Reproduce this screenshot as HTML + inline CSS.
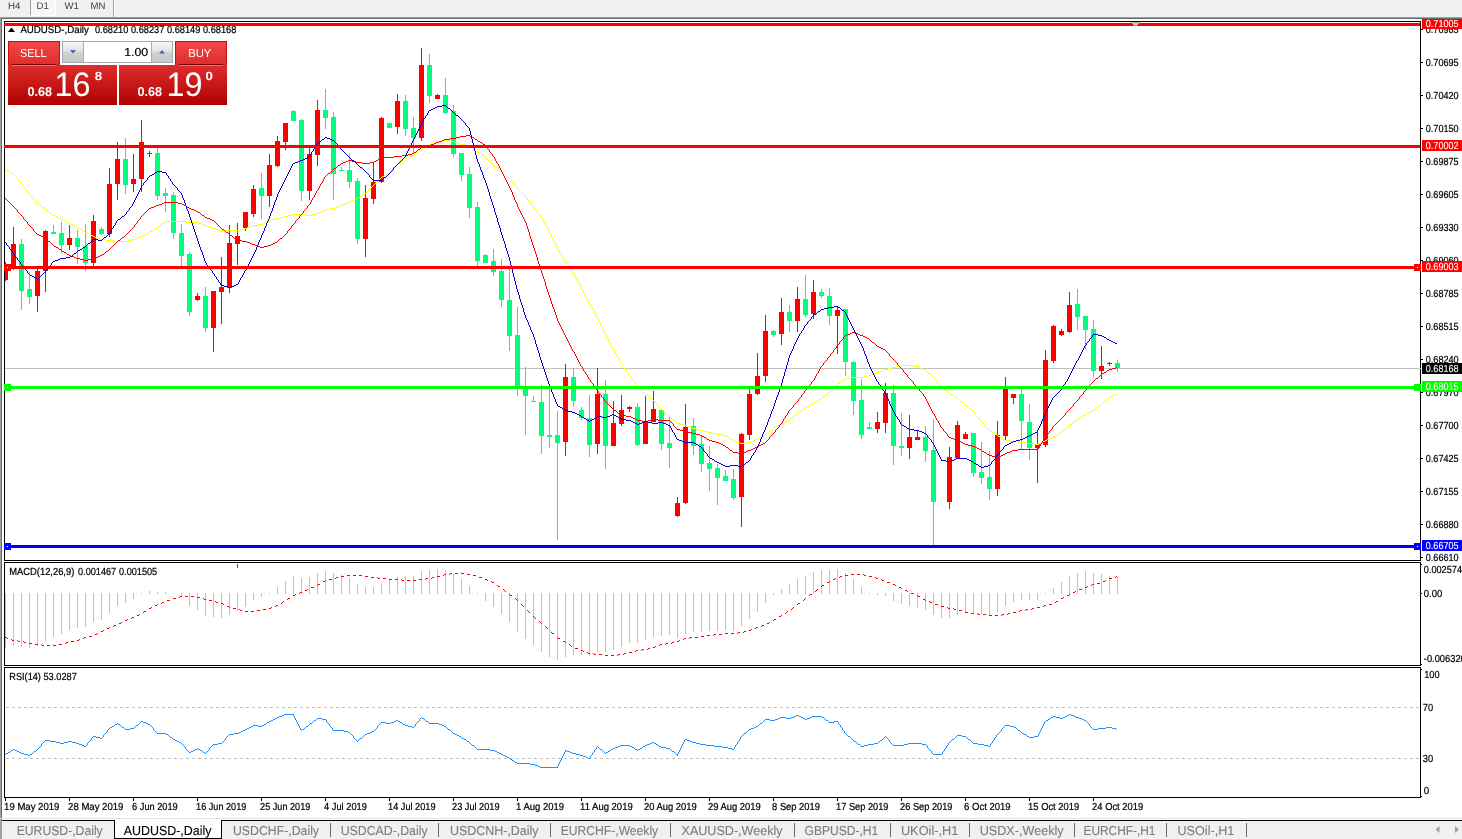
<!DOCTYPE html>
<html><head><meta charset="utf-8"><title>AUDUSD-,Daily</title>
<style>html,body{margin:0;padding:0;background:#fff;overflow:hidden}body{width:1462px;height:839px}svg{display:block}text{white-space:pre;text-rendering:geometricPrecision}</style>
</head><body>
<svg width="1462" height="839" viewBox="0 0 1462 839" shape-rendering="crispEdges" font-family="'Liberation Sans','DejaVu Sans',sans-serif">
<defs>
<linearGradient id="gr" gradientUnits="userSpaceOnUse" x1="0" y1="41" x2="0" y2="105"><stop offset="0" stop-color="#f44848"/><stop offset="0.45" stop-color="#d82828"/><stop offset="1" stop-color="#b00000"/></linearGradient>
<linearGradient id="gb" x1="0" y1="0" x2="0" y2="1"><stop offset="0" stop-color="#f4f4f4"/><stop offset="0.45" stop-color="#e4e4e4"/><stop offset="0.5" stop-color="#d2d2d2"/><stop offset="1" stop-color="#c8c8c8"/></linearGradient>
<clipPath id="cm"><rect x="5" y="22" width="1415" height="538"/></clipPath>
</defs>
<rect x="0" y="0" width="1462" height="839" fill="#ffffff"/>
<rect x="0" y="0" width="1462" height="17" fill="#f0f0f0"/>
<rect x="0" y="17" width="1462" height="1" fill="#a0a0a0"/>
<rect x="1" y="18" width="1461" height="1" fill="#696969"/>
<rect x="0" y="18" width="1" height="802" fill="#a0a0a0"/>
<rect x="1" y="19" width="1" height="801" fill="#696969"/>
<rect x="31" y="0" width="24" height="15" fill="#f8f8f8"/>
<rect x="30" y="0" width="1" height="15" fill="#a0a0a0"/>
<rect x="55" y="0" width="1" height="16" fill="#ffffff"/>
<rect x="31" y="15" width="25" height="1" fill="#ffffff"/>
<rect x="113" y="0" width="1" height="17" fill="#a0a0a0"/>
<rect x="114" y="0" width="1" height="17" fill="#ffffff"/>
<text x="8" y="9" font-size="9.6" fill="#3c3c3c">H4</text>
<text x="36.5" y="9" font-size="9.6" fill="#3c3c3c">D1</text>
<text x="64.5" y="9" font-size="9.6" fill="#3c3c3c">W1</text>
<text x="90.5" y="9" font-size="9.6" fill="#3c3c3c">MN</text>
<g clip-path="url(#cm)">
<rect x="5" y="368" width="1415" height="1" fill="#c0c0c0"/>
<rect x="5" y="262" width="1" height="19" fill="#ff0000"/>
<rect x="3" y="264" width="5" height="16" fill="#ff0000"/>
<rect x="13" y="227" width="1" height="43" fill="#ff0000"/>
<rect x="11" y="244" width="5" height="25" fill="#ff0000"/>
<rect x="21" y="239" width="1" height="71" fill="#00ff7f"/>
<rect x="19" y="244" width="5" height="47" fill="#00ff7f"/>
<rect x="29" y="272" width="1" height="32" fill="#00ff7f"/>
<rect x="27" y="289" width="5" height="8" fill="#00ff7f"/>
<rect x="37" y="269" width="1" height="43" fill="#ff0000"/>
<rect x="35" y="271" width="5" height="25" fill="#ff0000"/>
<rect x="45" y="230" width="1" height="62" fill="#ff0000"/>
<rect x="43" y="231" width="5" height="40" fill="#ff0000"/>
<rect x="53" y="225" width="1" height="9" fill="#00ff7f"/>
<rect x="51" y="232" width="5" height="2" fill="#00ff7f"/>
<rect x="61" y="222" width="1" height="31" fill="#00ff7f"/>
<rect x="59" y="233" width="5" height="12" fill="#00ff7f"/>
<rect x="69" y="225" width="1" height="25" fill="#ff0000"/>
<rect x="67" y="238" width="5" height="7" fill="#ff0000"/>
<rect x="77" y="230" width="1" height="34" fill="#00ff7f"/>
<rect x="75" y="238" width="5" height="9" fill="#00ff7f"/>
<rect x="85" y="224" width="1" height="47" fill="#00ff7f"/>
<rect x="83" y="246" width="5" height="17" fill="#00ff7f"/>
<rect x="93" y="215" width="1" height="54" fill="#ff0000"/>
<rect x="91" y="221" width="5" height="42" fill="#ff0000"/>
<rect x="101" y="227" width="1" height="8" fill="#00ff7f"/>
<rect x="99" y="229" width="5" height="5" fill="#00ff7f"/>
<rect x="109" y="168" width="1" height="69" fill="#ff0000"/>
<rect x="107" y="184" width="5" height="50" fill="#ff0000"/>
<rect x="117" y="142" width="1" height="58" fill="#ff0000"/>
<rect x="115" y="159" width="5" height="25" fill="#ff0000"/>
<rect x="125" y="138" width="1" height="56" fill="#00ff7f"/>
<rect x="123" y="159" width="5" height="26" fill="#00ff7f"/>
<rect x="133" y="154" width="1" height="38" fill="#ff0000"/>
<rect x="131" y="179" width="5" height="5" fill="#ff0000"/>
<rect x="141" y="120" width="1" height="72" fill="#ff0000"/>
<rect x="139" y="142" width="5" height="37" fill="#ff0000"/>
<rect x="149" y="151" width="1" height="6" fill="#ff0000"/>
<rect x="147" y="153" width="5" height="1" fill="#ff0000"/>
<rect x="157" y="148" width="1" height="52" fill="#00ff7f"/>
<rect x="155" y="153" width="5" height="43" fill="#00ff7f"/>
<rect x="165" y="188" width="1" height="24" fill="#00ff7f"/>
<rect x="163" y="193" width="5" height="3" fill="#00ff7f"/>
<rect x="173" y="192" width="1" height="47" fill="#00ff7f"/>
<rect x="171" y="195" width="5" height="38" fill="#00ff7f"/>
<rect x="181" y="224" width="1" height="44" fill="#00ff7f"/>
<rect x="179" y="233" width="5" height="23" fill="#00ff7f"/>
<rect x="189" y="252" width="1" height="64" fill="#00ff7f"/>
<rect x="187" y="254" width="5" height="58" fill="#00ff7f"/>
<rect x="197" y="293" width="1" height="8" fill="#ff0000"/>
<rect x="195" y="296" width="5" height="4" fill="#ff0000"/>
<rect x="205" y="287" width="1" height="45" fill="#00ff7f"/>
<rect x="203" y="296" width="5" height="32" fill="#00ff7f"/>
<rect x="213" y="291" width="1" height="61" fill="#ff0000"/>
<rect x="211" y="291" width="5" height="37" fill="#ff0000"/>
<rect x="221" y="257" width="1" height="67" fill="#ff0000"/>
<rect x="219" y="287" width="5" height="5" fill="#ff0000"/>
<rect x="229" y="225" width="1" height="68" fill="#ff0000"/>
<rect x="227" y="243" width="5" height="45" fill="#ff0000"/>
<rect x="237" y="223" width="1" height="42" fill="#ff0000"/>
<rect x="235" y="236" width="5" height="8" fill="#ff0000"/>
<rect x="245" y="212" width="1" height="19" fill="#ff0000"/>
<rect x="243" y="212" width="5" height="16" fill="#ff0000"/>
<rect x="253" y="185" width="1" height="32" fill="#ff0000"/>
<rect x="251" y="189" width="5" height="25" fill="#ff0000"/>
<rect x="261" y="173" width="1" height="46" fill="#00ff7f"/>
<rect x="259" y="188" width="5" height="8" fill="#00ff7f"/>
<rect x="269" y="154" width="1" height="53" fill="#ff0000"/>
<rect x="267" y="165" width="5" height="31" fill="#ff0000"/>
<rect x="277" y="136" width="1" height="31" fill="#ff0000"/>
<rect x="275" y="141" width="5" height="25" fill="#ff0000"/>
<rect x="285" y="123" width="1" height="27" fill="#ff0000"/>
<rect x="283" y="123" width="5" height="19" fill="#ff0000"/>
<rect x="293" y="110" width="1" height="11" fill="#00ff7f"/>
<rect x="291" y="111" width="5" height="10" fill="#00ff7f"/>
<rect x="301" y="119" width="1" height="82" fill="#00ff7f"/>
<rect x="299" y="120" width="5" height="71" fill="#00ff7f"/>
<rect x="309" y="148" width="1" height="52" fill="#ff0000"/>
<rect x="307" y="154" width="5" height="37" fill="#ff0000"/>
<rect x="317" y="100" width="1" height="66" fill="#ff0000"/>
<rect x="315" y="110" width="5" height="45" fill="#ff0000"/>
<rect x="325" y="89" width="1" height="40" fill="#00ff7f"/>
<rect x="323" y="110" width="5" height="8" fill="#00ff7f"/>
<rect x="333" y="112" width="1" height="88" fill="#00ff7f"/>
<rect x="331" y="117" width="5" height="57" fill="#00ff7f"/>
<rect x="341" y="167" width="1" height="4" fill="#00ff7f"/>
<rect x="339" y="170" width="5" height="1" fill="#00ff7f"/>
<rect x="349" y="154" width="1" height="34" fill="#00ff7f"/>
<rect x="347" y="170" width="5" height="12" fill="#00ff7f"/>
<rect x="357" y="178" width="1" height="66" fill="#00ff7f"/>
<rect x="355" y="181" width="5" height="58" fill="#00ff7f"/>
<rect x="365" y="185" width="1" height="72" fill="#ff0000"/>
<rect x="363" y="198" width="5" height="41" fill="#ff0000"/>
<rect x="373" y="162" width="1" height="42" fill="#ff0000"/>
<rect x="371" y="182" width="5" height="17" fill="#ff0000"/>
<rect x="381" y="117" width="1" height="66" fill="#ff0000"/>
<rect x="379" y="118" width="5" height="64" fill="#ff0000"/>
<rect x="389" y="123" width="1" height="5" fill="#00ff7f"/>
<rect x="387" y="123" width="5" height="5" fill="#00ff7f"/>
<rect x="397" y="94" width="1" height="40" fill="#ff0000"/>
<rect x="395" y="101" width="5" height="26" fill="#ff0000"/>
<rect x="405" y="95" width="1" height="41" fill="#00ff7f"/>
<rect x="403" y="101" width="5" height="28" fill="#00ff7f"/>
<rect x="413" y="117" width="1" height="37" fill="#00ff7f"/>
<rect x="411" y="128" width="5" height="10" fill="#00ff7f"/>
<rect x="421" y="48" width="1" height="93" fill="#ff0000"/>
<rect x="419" y="65" width="5" height="73" fill="#ff0000"/>
<rect x="429" y="54" width="1" height="49" fill="#00ff7f"/>
<rect x="427" y="65" width="5" height="31" fill="#00ff7f"/>
<rect x="437" y="94" width="1" height="5" fill="#ff0000"/>
<rect x="435" y="95" width="5" height="4" fill="#ff0000"/>
<rect x="445" y="78" width="1" height="36" fill="#00ff7f"/>
<rect x="443" y="95" width="5" height="18" fill="#00ff7f"/>
<rect x="453" y="105" width="1" height="52" fill="#00ff7f"/>
<rect x="451" y="111" width="5" height="43" fill="#00ff7f"/>
<rect x="461" y="153" width="1" height="28" fill="#00ff7f"/>
<rect x="459" y="153" width="5" height="22" fill="#00ff7f"/>
<rect x="469" y="167" width="1" height="51" fill="#00ff7f"/>
<rect x="467" y="174" width="5" height="34" fill="#00ff7f"/>
<rect x="477" y="202" width="1" height="64" fill="#00ff7f"/>
<rect x="475" y="207" width="5" height="54" fill="#00ff7f"/>
<rect x="485" y="254" width="1" height="9" fill="#00ff7f"/>
<rect x="483" y="255" width="5" height="8" fill="#00ff7f"/>
<rect x="493" y="249" width="1" height="27" fill="#00ff7f"/>
<rect x="491" y="261" width="5" height="11" fill="#00ff7f"/>
<rect x="501" y="259" width="1" height="48" fill="#00ff7f"/>
<rect x="499" y="271" width="5" height="29" fill="#00ff7f"/>
<rect x="509" y="269" width="1" height="82" fill="#00ff7f"/>
<rect x="507" y="300" width="5" height="36" fill="#00ff7f"/>
<rect x="517" y="307" width="1" height="89" fill="#00ff7f"/>
<rect x="515" y="335" width="5" height="52" fill="#00ff7f"/>
<rect x="525" y="367" width="1" height="68" fill="#00ff7f"/>
<rect x="523" y="387" width="5" height="9" fill="#00ff7f"/>
<rect x="533" y="396" width="1" height="6" fill="#00ff7f"/>
<rect x="531" y="401" width="5" height="1" fill="#00ff7f"/>
<rect x="541" y="385" width="1" height="69" fill="#00ff7f"/>
<rect x="539" y="402" width="5" height="34" fill="#00ff7f"/>
<rect x="549" y="388" width="1" height="60" fill="#00ff7f"/>
<rect x="547" y="435" width="5" height="2" fill="#00ff7f"/>
<rect x="557" y="411" width="1" height="129" fill="#00ff7f"/>
<rect x="555" y="435" width="5" height="8" fill="#00ff7f"/>
<rect x="565" y="364" width="1" height="92" fill="#ff0000"/>
<rect x="563" y="377" width="5" height="65" fill="#ff0000"/>
<rect x="573" y="368" width="1" height="39" fill="#00ff7f"/>
<rect x="571" y="377" width="5" height="24" fill="#00ff7f"/>
<rect x="581" y="407" width="1" height="13" fill="#00ff7f"/>
<rect x="579" y="410" width="5" height="8" fill="#00ff7f"/>
<rect x="589" y="395" width="1" height="62" fill="#00ff7f"/>
<rect x="587" y="418" width="5" height="27" fill="#00ff7f"/>
<rect x="597" y="368" width="1" height="86" fill="#ff0000"/>
<rect x="595" y="394" width="5" height="50" fill="#ff0000"/>
<rect x="605" y="380" width="1" height="89" fill="#00ff7f"/>
<rect x="603" y="394" width="5" height="52" fill="#00ff7f"/>
<rect x="613" y="401" width="1" height="45" fill="#ff0000"/>
<rect x="611" y="423" width="5" height="23" fill="#ff0000"/>
<rect x="621" y="395" width="1" height="31" fill="#ff0000"/>
<rect x="619" y="410" width="5" height="14" fill="#ff0000"/>
<rect x="629" y="406" width="1" height="6" fill="#ff0000"/>
<rect x="627" y="407" width="5" height="2" fill="#ff0000"/>
<rect x="637" y="403" width="1" height="43" fill="#00ff7f"/>
<rect x="635" y="407" width="5" height="38" fill="#00ff7f"/>
<rect x="645" y="396" width="1" height="48" fill="#ff0000"/>
<rect x="643" y="422" width="5" height="22" fill="#ff0000"/>
<rect x="653" y="391" width="1" height="31" fill="#ff0000"/>
<rect x="651" y="409" width="5" height="13" fill="#ff0000"/>
<rect x="661" y="409" width="1" height="41" fill="#00ff7f"/>
<rect x="659" y="410" width="5" height="34" fill="#00ff7f"/>
<rect x="669" y="417" width="1" height="51" fill="#00ff7f"/>
<rect x="667" y="443" width="5" height="5" fill="#00ff7f"/>
<rect x="677" y="497" width="1" height="20" fill="#ff0000"/>
<rect x="675" y="503" width="5" height="13" fill="#ff0000"/>
<rect x="685" y="404" width="1" height="100" fill="#ff0000"/>
<rect x="683" y="427" width="5" height="76" fill="#ff0000"/>
<rect x="693" y="418" width="1" height="37" fill="#00ff7f"/>
<rect x="691" y="426" width="5" height="20" fill="#00ff7f"/>
<rect x="701" y="436" width="1" height="36" fill="#00ff7f"/>
<rect x="699" y="444" width="5" height="20" fill="#00ff7f"/>
<rect x="709" y="446" width="1" height="45" fill="#00ff7f"/>
<rect x="707" y="463" width="5" height="6" fill="#00ff7f"/>
<rect x="717" y="464" width="1" height="41" fill="#00ff7f"/>
<rect x="715" y="468" width="5" height="10" fill="#00ff7f"/>
<rect x="725" y="470" width="1" height="11" fill="#00ff7f"/>
<rect x="723" y="476" width="5" height="5" fill="#00ff7f"/>
<rect x="733" y="469" width="1" height="31" fill="#00ff7f"/>
<rect x="731" y="479" width="5" height="19" fill="#00ff7f"/>
<rect x="741" y="433" width="1" height="94" fill="#ff0000"/>
<rect x="739" y="434" width="5" height="63" fill="#ff0000"/>
<rect x="749" y="388" width="1" height="52" fill="#ff0000"/>
<rect x="747" y="394" width="5" height="41" fill="#ff0000"/>
<rect x="757" y="353" width="1" height="42" fill="#ff0000"/>
<rect x="755" y="376" width="5" height="18" fill="#ff0000"/>
<rect x="765" y="315" width="1" height="67" fill="#ff0000"/>
<rect x="763" y="331" width="5" height="45" fill="#ff0000"/>
<rect x="773" y="330" width="1" height="7" fill="#00ff7f"/>
<rect x="771" y="331" width="5" height="4" fill="#00ff7f"/>
<rect x="781" y="298" width="1" height="47" fill="#ff0000"/>
<rect x="779" y="312" width="5" height="22" fill="#ff0000"/>
<rect x="789" y="305" width="1" height="27" fill="#00ff7f"/>
<rect x="787" y="312" width="5" height="9" fill="#00ff7f"/>
<rect x="797" y="287" width="1" height="45" fill="#ff0000"/>
<rect x="795" y="299" width="5" height="22" fill="#ff0000"/>
<rect x="805" y="275" width="1" height="42" fill="#00ff7f"/>
<rect x="803" y="299" width="5" height="16" fill="#00ff7f"/>
<rect x="813" y="280" width="1" height="39" fill="#ff0000"/>
<rect x="811" y="292" width="5" height="22" fill="#ff0000"/>
<rect x="821" y="289" width="1" height="9" fill="#00ff7f"/>
<rect x="819" y="292" width="5" height="4" fill="#00ff7f"/>
<rect x="829" y="288" width="1" height="37" fill="#00ff7f"/>
<rect x="827" y="296" width="5" height="20" fill="#00ff7f"/>
<rect x="837" y="307" width="1" height="47" fill="#ff0000"/>
<rect x="835" y="310" width="5" height="6" fill="#ff0000"/>
<rect x="845" y="309" width="1" height="67" fill="#00ff7f"/>
<rect x="843" y="309" width="5" height="53" fill="#00ff7f"/>
<rect x="853" y="361" width="1" height="54" fill="#00ff7f"/>
<rect x="851" y="362" width="5" height="39" fill="#00ff7f"/>
<rect x="861" y="379" width="1" height="60" fill="#00ff7f"/>
<rect x="859" y="400" width="5" height="35" fill="#00ff7f"/>
<rect x="869" y="422" width="1" height="7" fill="#00ff7f"/>
<rect x="867" y="427" width="5" height="2" fill="#00ff7f"/>
<rect x="877" y="412" width="1" height="21" fill="#ff0000"/>
<rect x="875" y="422" width="5" height="7" fill="#ff0000"/>
<rect x="885" y="383" width="1" height="50" fill="#ff0000"/>
<rect x="883" y="393" width="5" height="30" fill="#ff0000"/>
<rect x="893" y="385" width="1" height="80" fill="#00ff7f"/>
<rect x="891" y="393" width="5" height="53" fill="#00ff7f"/>
<rect x="901" y="413" width="1" height="43" fill="#00ff7f"/>
<rect x="899" y="446" width="5" height="2" fill="#00ff7f"/>
<rect x="909" y="415" width="1" height="44" fill="#ff0000"/>
<rect x="907" y="437" width="5" height="11" fill="#ff0000"/>
<rect x="917" y="431" width="1" height="9" fill="#ff0000"/>
<rect x="915" y="437" width="5" height="3" fill="#ff0000"/>
<rect x="925" y="426" width="1" height="36" fill="#00ff7f"/>
<rect x="923" y="437" width="5" height="14" fill="#00ff7f"/>
<rect x="933" y="419" width="1" height="126" fill="#00ff7f"/>
<rect x="931" y="450" width="5" height="52" fill="#00ff7f"/>
<rect x="949" y="447" width="1" height="62" fill="#ff0000"/>
<rect x="947" y="457" width="5" height="45" fill="#ff0000"/>
<rect x="957" y="421" width="1" height="37" fill="#ff0000"/>
<rect x="955" y="425" width="5" height="33" fill="#ff0000"/>
<rect x="965" y="432" width="1" height="7" fill="#ff0000"/>
<rect x="963" y="434" width="5" height="5" fill="#ff0000"/>
<rect x="973" y="433" width="1" height="44" fill="#00ff7f"/>
<rect x="971" y="433" width="5" height="40" fill="#00ff7f"/>
<rect x="981" y="442" width="1" height="42" fill="#00ff7f"/>
<rect x="979" y="472" width="5" height="6" fill="#00ff7f"/>
<rect x="989" y="451" width="1" height="49" fill="#00ff7f"/>
<rect x="987" y="477" width="5" height="12" fill="#00ff7f"/>
<rect x="997" y="421" width="1" height="75" fill="#ff0000"/>
<rect x="995" y="435" width="5" height="54" fill="#ff0000"/>
<rect x="1005" y="377" width="1" height="63" fill="#ff0000"/>
<rect x="1003" y="388" width="5" height="48" fill="#ff0000"/>
<rect x="1013" y="394" width="1" height="10" fill="#ff0000"/>
<rect x="1011" y="394" width="5" height="4" fill="#ff0000"/>
<rect x="1021" y="389" width="1" height="60" fill="#00ff7f"/>
<rect x="1019" y="394" width="5" height="27" fill="#00ff7f"/>
<rect x="1029" y="404" width="1" height="56" fill="#00ff7f"/>
<rect x="1027" y="422" width="5" height="26" fill="#00ff7f"/>
<rect x="1037" y="432" width="1" height="51" fill="#ff0000"/>
<rect x="1035" y="444" width="5" height="4" fill="#ff0000"/>
<rect x="1045" y="350" width="1" height="97" fill="#ff0000"/>
<rect x="1043" y="360" width="5" height="85" fill="#ff0000"/>
<rect x="1053" y="325" width="1" height="38" fill="#ff0000"/>
<rect x="1051" y="326" width="5" height="35" fill="#ff0000"/>
<rect x="1061" y="329" width="1" height="7" fill="#ff0000"/>
<rect x="1059" y="331" width="5" height="4" fill="#ff0000"/>
<rect x="1069" y="292" width="1" height="41" fill="#ff0000"/>
<rect x="1067" y="305" width="5" height="27" fill="#ff0000"/>
<rect x="1077" y="289" width="1" height="41" fill="#00ff7f"/>
<rect x="1075" y="304" width="5" height="13" fill="#00ff7f"/>
<rect x="1085" y="316" width="1" height="34" fill="#00ff7f"/>
<rect x="1083" y="316" width="5" height="14" fill="#00ff7f"/>
<rect x="1093" y="320" width="1" height="57" fill="#00ff7f"/>
<rect x="1091" y="329" width="5" height="42" fill="#00ff7f"/>
<rect x="1101" y="346" width="1" height="33" fill="#ff0000"/>
<rect x="1099" y="366" width="5" height="5" fill="#ff0000"/>
<rect x="1109" y="362" width="1" height="4" fill="#ff0000"/>
<rect x="1107" y="363" width="5" height="1" fill="#ff0000"/>
<rect x="1117" y="360" width="1" height="12" fill="#00ff7f"/>
<rect x="1115" y="363" width="5" height="5" fill="#00ff7f"/>
</g>
<path d="M442 140.5h8M436 141.5h6M450 141.5h5M434 142.5h2M455 142.5h3M431 143.5h3M458 143.5h2M429 144.5h2M460 144.5h6M427 145.5h2M466 145.5h4M425 146.5h2M470 146.5h2M423 147.5h2M472 147.5h1M421 148.5h2M473 148.5h1M420 149.5h1M474 149.5h2M419 150.5h1M476 150.5h1M418 151.5h1M477 151.5h1M416 152.5h2M478 152.5h2M415 153.5h1M480 153.5h1M414 154.5h1M481 154.5h1M412 155.5h2M482 155.5h2M410 156.5h2M484 156.5h1M407 157.5h3M485 157.5h1M405 158.5h2M486 158.5h1M404 159.5h1M487 159.5h1M402 160.5h2M488 160.5h1M401 161.5h1M489 161.5h1M400 162.5h1M490 162.5h1M398 163.5h2M491 163.5h1M397 164.5h1M492 164.5h1M396 165.5h1M493 165.5h1M395 166.5h1M494 166.5h2M394 167.5h1M496 167.5h2M393 168.5h1M498 168.5h1M5 169.5h1M392 169.5h1M499 169.5h2M6 170.5h2M391 170.5h1M501 170.5h1M8 171.5h2M390 171.5h1M502 171.5h1M10 172.5h1M389 172.5h1M503 172.5h1M11 173.5h2M387 173.5h2M504 173.5h1M13 174.5h1M386 174.5h1M505 174.5h1M14 175.5h1M384 175.5h2M506 175.5h1M15 176.5h1M382 176.5h2M507 176.5h1M16 177.5h1M381 177.5h1M508 177.5h1M17.5 178v2M380 178.5h1M509 178.5h1M379 179.5h1M510 179.5h1M18 180.5h1M378 180.5h1M511.5 180v2M19 181.5h1M377 181.5h1M20 182.5h1M376 182.5h1M512 182.5h1M21 183.5h1M375 183.5h1M513 183.5h1M22.5 184v2M374 184.5h1M514 184.5h1M373 185.5h1M515.5 185v2M23 186.5h1M372 186.5h1M24 187.5h1M371 187.5h1M516 187.5h1M25.5 188v2M370 188.5h1M517 188.5h1M369 189.5h1M518 189.5h1M26 190.5h1M368 190.5h1M519 190.5h1M27 191.5h1M367 191.5h1M520 191.5h1M28.5 192v2M366 192.5h1M521 192.5h1M365 193.5h1M522 193.5h1M29 194.5h1M363 194.5h2M523 194.5h1M30 195.5h1M362 195.5h1M524 195.5h1M31 196.5h1M360 196.5h2M525 196.5h1M32 197.5h1M358 197.5h2M526 197.5h1M33.5 198v2M356 198.5h2M527.5 198v2M354 199.5h2M34 200.5h1M351 200.5h3M528 200.5h1M35 201.5h1M349 201.5h2M529 201.5h1M36 202.5h1M347 202.5h2M530 202.5h1M37 203.5h1M345 203.5h2M531.5 203v2M38 204.5h2M343 204.5h2M40 205.5h1M340 205.5h3M532 205.5h1M41 206.5h1M338 206.5h2M533 206.5h1M42 207.5h2M335 207.5h3M534.5 207v2M44 208.5h1M330 208.5h5M45 209.5h1M325 209.5h5M535 209.5h1M46 210.5h2M323 210.5h2M536 210.5h1M48 211.5h1M321 211.5h2M537.5 211v2M49 212.5h1M319 212.5h2M50 213.5h2M316 213.5h3M538 213.5h1M52 214.5h1M292 214.5h14M312 214.5h4M539 214.5h1M53 215.5h2M288 215.5h4M306 215.5h6M540.5 215v2M55 216.5h2M284 216.5h4M57 217.5h2M280 217.5h4M541 217.5h1M59 218.5h2M276 218.5h4M542.5 218v2M61 219.5h2M272 219.5h4M63 220.5h2M269 220.5h3M543.5 220v2M65 221.5h2M165 221.5h21M267 221.5h2M67 222.5h2M164 222.5h1M186 222.5h13M265 222.5h2M544.5 222v2M69 223.5h2M162 223.5h2M199 223.5h3M263 223.5h2M71 224.5h2M161 224.5h1M202 224.5h2M258 224.5h5M545 224.5h1M73 225.5h2M160 225.5h1M204 225.5h3M252 225.5h6M546.5 225v2M75 226.5h2M158 226.5h2M207 226.5h3M250 226.5h2M77 227.5h1M157 227.5h1M210 227.5h2M247 227.5h3M547.5 227v2M78 228.5h2M155 228.5h2M212 228.5h4M244 228.5h3M80 229.5h2M154 229.5h1M216 229.5h4M240 229.5h4M548.5 229v2M82 230.5h1M152 230.5h2M220 230.5h20M83 231.5h2M150 231.5h2M549.5 231v2M85 232.5h2M149 232.5h1M87 233.5h2M147 233.5h2M550.5 233v2M89 234.5h2M145 234.5h2M91 235.5h2M143 235.5h2M551.5 235v2M93 236.5h2M140 236.5h3M95 237.5h3M138 237.5h2M552.5 237v2M98 238.5h2M135 238.5h3M100 239.5h6M132 239.5h3M553.5 239v2M106 240.5h8M128 240.5h4M114 241.5h14M554.5 241v2M555.5 243v2M556.5 245v2M557.5 247v2M558.5 249v2M559.5 251v2M560 253.5h1M561.5 254v2M562 256.5h1M563.5 257v2M564.5 259v2M565 261.5h1M566.5 262v2M567 264.5h1M568.5 265v2M569 267.5h1M570.5 268v2M571 270.5h1M572.5 271v2M573 273.5h1M574.5 274v2M575.5 276v2M576.5 278v2M577 280.5h1M578.5 281v2M579.5 283v2M580.5 285v2M581.5 287v2M582.5 289v2M583.5 291v2M584.5 293v2M585.5 295v2M586.5 297v2M587.5 299v2M588.5 301v2M589 303.5h1M590.5 304v2M591.5 306v2M592.5 308v2M593 310.5h1M594.5 311v2M595.5 313v2M596.5 315v2M597.5 317v2M598.5 319v2M599.5 321v2M600.5 323v2M601.5 325v2M602.5 327v2M603.5 329v2M604.5 331v2M605.5 333v2M606.5 335v2M607.5 337v2M608.5 339v2M609.5 341v2M610.5 343v2M611.5 345v2M612.5 347v2M613 349.5h1M614.5 350v2M615.5 352v2M616.5 354v2M617 356.5h1M618.5 357v2M619.5 359v2M620.5 361v2M621 363.5h1M622.5 364v2M900 365.5h14M623 366.5h1M896 366.5h4M914 366.5h5M624.5 367v2M892 367.5h4M919 367.5h2M888 368.5h4M921 368.5h2M625 369.5h1M884 369.5h4M923 369.5h2M626.5 370v2M882 370.5h2M925 370.5h1M879 371.5h3M926 371.5h1M627 372.5h1M876 372.5h3M927 372.5h1M628.5 373v2M874 373.5h2M928 373.5h2M871 374.5h3M930 374.5h1M629 375.5h1M868 375.5h3M931 375.5h1M630 376.5h1M864 376.5h4M932 376.5h1M631.5 377v2M850 377.5h14M933 377.5h1M845 378.5h5M934 378.5h1M632 379.5h1M844 379.5h1M935 379.5h1M633 380.5h1M842 380.5h2M936 380.5h1M634 381.5h1M841 381.5h1M937.5 381v2M635.5 382v2M840 382.5h1M838 383.5h2M938 383.5h1M636 384.5h1M837 384.5h1M939 384.5h1M637 385.5h1M836 385.5h1M940 385.5h1M638 386.5h1M835 386.5h1M941 386.5h1M639 387.5h1M834 387.5h1M942 387.5h1M640 388.5h1M833 388.5h1M943 388.5h1M641.5 389v2M832 389.5h1M944 389.5h2M831 390.5h1M946 390.5h1M642 391.5h1M830 391.5h1M947 391.5h1M643 392.5h1M829 392.5h1M948 392.5h1M644 393.5h1M828 393.5h1M949 393.5h1M645 394.5h1M826 394.5h2M950 394.5h2M1115 394.5h2M646 395.5h2M825 395.5h1M952 395.5h2M1113 395.5h2M648 396.5h1M824 396.5h1M954 396.5h1M1111 396.5h2M649 397.5h1M822 397.5h2M955 397.5h2M1109 397.5h2M650 398.5h2M821 398.5h1M957 398.5h1M1108 398.5h1M652 399.5h1M819 399.5h2M958 399.5h1M1107 399.5h1M653 400.5h1M818 400.5h1M959 400.5h1M1106 400.5h1M654 401.5h1M816 401.5h2M960 401.5h2M1104 401.5h2M655 402.5h1M814 402.5h2M962 402.5h1M1103 402.5h1M656 403.5h1M813 403.5h1M963 403.5h1M1102 403.5h1M657.5 404v2M811 404.5h2M964 404.5h1M1101 404.5h1M809 405.5h2M965 405.5h1M1100 405.5h1M658 406.5h1M807 406.5h2M966 406.5h2M1098 406.5h2M659 407.5h1M805 407.5h2M968 407.5h1M1097 407.5h1M660 408.5h1M804 408.5h1M969 408.5h1M1096 408.5h1M661 409.5h1M802 409.5h2M970 409.5h2M1094 409.5h2M662 410.5h1M801 410.5h1M972 410.5h1M1093 410.5h1M663 411.5h1M800 411.5h1M973 411.5h1M1091 411.5h2M664 412.5h2M798 412.5h2M974 412.5h1M1089 412.5h2M666 413.5h1M797 413.5h1M975.5 413v2M1087 413.5h2M667 414.5h1M796 414.5h1M1085 414.5h2M668 415.5h1M794 415.5h2M976 415.5h1M1083 415.5h2M669 416.5h1M793 416.5h1M977 416.5h1M1082 416.5h1M670 417.5h1M792 417.5h1M978 417.5h1M1080 417.5h2M671 418.5h1M790 418.5h2M979.5 418v2M1078 418.5h2M672 419.5h2M789 419.5h1M1077 419.5h1M674 420.5h1M787 420.5h2M980 420.5h1M1076 420.5h1M675 421.5h1M785 421.5h2M981 421.5h1M1074 421.5h2M676 422.5h1M783 422.5h2M982 422.5h1M1073 422.5h1M677 423.5h3M781 423.5h2M983 423.5h1M1072 423.5h1M680 424.5h4M779 424.5h2M984 424.5h1M1070 424.5h2M684 425.5h3M778 425.5h1M985.5 425v2M1069 425.5h1M687 426.5h3M776 426.5h2M1068 426.5h1M690 427.5h2M774 427.5h2M986 427.5h1M1067 427.5h1M692 428.5h4M773 428.5h1M987 428.5h1M1066 428.5h1M696 429.5h4M772 429.5h1M988 429.5h1M1064 429.5h2M700 430.5h4M770 430.5h2M989 430.5h1M1063 430.5h1M704 431.5h4M769 431.5h1M990 431.5h2M1062 431.5h1M708 432.5h4M768 432.5h1M992 432.5h2M1061 432.5h1M712 433.5h4M766 433.5h2M994 433.5h1M1059 433.5h2M716 434.5h6M765 434.5h1M995 434.5h2M1058 434.5h1M722 435.5h4M763 435.5h2M997 435.5h1M1056 435.5h2M726 436.5h2M761 436.5h2M998 436.5h2M1054 436.5h2M728 437.5h1M759 437.5h2M1000 437.5h2M1052 437.5h2M729 438.5h1M757 438.5h2M1002 438.5h1M1050 438.5h2M730 439.5h2M755 439.5h2M1003 439.5h2M1047 439.5h3M732 440.5h1M753 440.5h2M1005 440.5h5M1045 440.5h2M733 441.5h3M751 441.5h2M1010 441.5h8M1043 441.5h2M736 442.5h4M746 442.5h5M1018 442.5h8M1041 442.5h2M740 443.5h6M1026 443.5h8M1039 443.5h2M1034 444.5h5" fill="none" stroke="#ffff00" stroke-width="1"/>
<path d="M466 135.5h4M460 136.5h6M470 136.5h2M456 137.5h4M472 137.5h2M450 138.5h6M474 138.5h1M444 139.5h6M475 139.5h2M442 140.5h2M477 140.5h1M439 141.5h3M478 141.5h2M436 142.5h3M480 142.5h2M434 143.5h2M482 143.5h1M431 144.5h3M483 144.5h2M428 145.5h3M485 145.5h1M424 146.5h4M486.5 146v2M421 147.5h3M420 148.5h1M487 148.5h1M418 149.5h2M488 149.5h1M417 150.5h1M489.5 150v2M416 151.5h1M414 152.5h2M490 152.5h1M412 153.5h2M491 153.5h1M408 154.5h4M492.5 154v2M402 155.5h6M394 156.5h8M493 156.5h1M381 157.5h13M494.5 157v2M379 158.5h2M378 159.5h1M495.5 159v2M348 160.5h4M376 160.5h2M346 161.5h2M352 161.5h4M374 161.5h2M496.5 161v2M343 162.5h3M356 162.5h6M370 162.5h4M341 163.5h2M362 163.5h8M497 163.5h1M340 164.5h1M498.5 164v2M338 165.5h2M337 166.5h1M499.5 166v2M336 167.5h1M334 168.5h2M500.5 168v2M333 169.5h1M332 170.5h1M501.5 170v2M331 171.5h1M330 172.5h1M502.5 172v2M328 173.5h2M327 174.5h1M503.5 174v2M326 175.5h1M325 176.5h1M504.5 176v2M324.5 177v2M505.5 178v2M323.5 179v2M506.5 180v2M322.5 181v2M507.5 182v2M321 183.5h1M320.5 184v2M508.5 184v2M319.5 186v2M509.5 186v2M318.5 188v2M510.5 188v2M317 190.5h1M511.5 190v2M316.5 191v2M512.5 192v3M315.5 193v2M314.5 195v2M513.5 195v2M313 197.5h1M514.5 197v3M5 198.5h1M312.5 198v2M6 199.5h1M7 200.5h1M311.5 200v2M515.5 200v2M8 201.5h1M9 202.5h1M164 202.5h14M310.5 202v2M516.5 202v2M10 203.5h1M162 203.5h2M178 203.5h4M11 204.5h1M159 204.5h3M182 204.5h2M309 204.5h1M517.5 204v3M12 205.5h1M156 205.5h3M184 205.5h2M308 205.5h1M13 206.5h1M154 206.5h2M186 206.5h1M307.5 206v2M14 207.5h1M151 207.5h3M187 207.5h2M518.5 207v2M15 208.5h1M149 208.5h2M189 208.5h2M306 208.5h1M16 209.5h1M148 209.5h1M191 209.5h3M305 209.5h1M519.5 209v2M17.5 210v2M147 210.5h1M194 210.5h2M304 210.5h1M146 211.5h1M196 211.5h2M303.5 211v2M520.5 211v2M18 212.5h1M145 212.5h1M198 212.5h2M19 213.5h1M144 213.5h1M200 213.5h1M302 213.5h1M521.5 213v2M20 214.5h1M143 214.5h1M201 214.5h1M301 214.5h1M21 215.5h1M142 215.5h1M202 215.5h2M300 215.5h1M522.5 215v2M22 216.5h1M141 216.5h1M204 216.5h1M299.5 216v2M23.5 217v2M140.5 217v2M205 217.5h2M523.5 217v2M207 218.5h3M298 218.5h1M24 219.5h1M139 219.5h1M210 219.5h2M297 219.5h1M524.5 219v2M25 220.5h1M138 220.5h1M212 220.5h2M296 220.5h1M26 221.5h1M137.5 221v2M214 221.5h1M295.5 221v2M525.5 221v2M27.5 222v2M215 222.5h1M136 223.5h1M216 223.5h1M294 223.5h1M526.5 223v3M28 224.5h1M135 224.5h1M217 224.5h1M293 224.5h1M29 225.5h1M134.5 225v2M218 225.5h1M292 225.5h1M30 226.5h1M219 226.5h1M291.5 226v2M527.5 226v3M31 227.5h1M133 227.5h1M220 227.5h1M32 228.5h1M132 228.5h1M221 228.5h1M290 228.5h1M33.5 229v2M131 229.5h1M222 229.5h2M289 229.5h1M528.5 229v3M130 230.5h1M224 230.5h1M288 230.5h1M34 231.5h1M129 231.5h1M225 231.5h1M287.5 231v2M35 232.5h1M128 232.5h1M226 232.5h2M529.5 232v4M36 233.5h1M127 233.5h1M228 233.5h1M286 233.5h1M37 234.5h2M126 234.5h1M229 234.5h1M285 234.5h1M39 235.5h2M125 235.5h1M230 235.5h2M284 235.5h1M41 236.5h2M124 236.5h1M232 236.5h1M283 236.5h1M530.5 236v3M43 237.5h2M122 237.5h2M233 237.5h1M282 237.5h1M45 238.5h1M121 238.5h1M234 238.5h2M280 238.5h2M46 239.5h1M120 239.5h1M236 239.5h1M279 239.5h1M531.5 239v3M47 240.5h1M118 240.5h2M237 240.5h5M278 240.5h1M48 241.5h2M117 241.5h1M242 241.5h5M277 241.5h1M50 242.5h1M116 242.5h1M247 242.5h3M275 242.5h2M532.5 242v3M51 243.5h1M115 243.5h1M250 243.5h2M273 243.5h2M52 244.5h1M114 244.5h1M252 244.5h3M271 244.5h2M53 245.5h1M113 245.5h1M255 245.5h3M268 245.5h3M533.5 245v3M54 246.5h2M112 246.5h1M258 246.5h2M264 246.5h4M56 247.5h2M111 247.5h1M260 247.5h4M58 248.5h1M110 248.5h1M534.5 248v3M59 249.5h2M109 249.5h1M61 250.5h1M108 250.5h1M62 251.5h2M106 251.5h2M535.5 251v3M64 252.5h2M105 252.5h1M66 253.5h1M104 253.5h1M67 254.5h2M102 254.5h2M536.5 254v3M69 255.5h2M100 255.5h2M71 256.5h3M98 256.5h2M74 257.5h2M95 257.5h3M537.5 257v4M76 258.5h4M92 258.5h3M80 259.5h4M88 259.5h4M84 260.5h4M538.5 261v3M539.5 264v3M540.5 267v3M541.5 270v3M542.5 273v3M543.5 276v3M544.5 279v3M545.5 282v4M546.5 286v3M547.5 289v3M548.5 292v3M549.5 295v3M550.5 298v3M551.5 301v3M552.5 304v3M553.5 307v2M554.5 309v3M555.5 312v3M556.5 315v3M557.5 318v3M558.5 321v2M559.5 323v2M560.5 325v2M561.5 327v2M562.5 329v2M563.5 331v2M852 332.5h3M564.5 333v2M850 333.5h2M855 333.5h3M847 334.5h3M858 334.5h2M565.5 335v2M845 335.5h2M860 335.5h3M844 336.5h1M863 336.5h2M566.5 337v2M843.5 337v2M865 337.5h2M867 338.5h2M567.5 339v2M842 339.5h1M869 339.5h1M841 340.5h1M870 340.5h1M568.5 341v2M840 341.5h1M871 341.5h1M839.5 342v2M872 342.5h2M569.5 343v2M874 343.5h1M838 344.5h1M875 344.5h1M570.5 345v2M837 345.5h1M876 345.5h1M836.5 346v2M877 346.5h2M571.5 347v2M879 347.5h2M835 348.5h1M881 348.5h2M572.5 349v2M834 349.5h1M883 349.5h2M833.5 350v2M885 350.5h1M573 351.5h1M886 351.5h1M574.5 352v2M832 352.5h1M887 352.5h1M831 353.5h1M888 353.5h1M575.5 354v2M830.5 354v2M889.5 354v2M576.5 356v2M829 356.5h1M890 356.5h1M828 357.5h1M891 357.5h1M577.5 358v2M827.5 358v2M892 358.5h1M893 359.5h1M578.5 360v2M826 360.5h1M894 360.5h1M825 361.5h1M895 361.5h1M579.5 362v2M824 362.5h1M896 362.5h1M823.5 363v2M897.5 363v2M580.5 364v2M822 365.5h1M898 365.5h1M581 366.5h1M821 366.5h1M899 366.5h1M582.5 367v2M820.5 367v2M900 367.5h1M1116 367.5h1M901 368.5h1M1112 368.5h4M583.5 369v2M819.5 369v2M902 369.5h1M1109 369.5h3M903.5 370v2M1107 370.5h2M584 371.5h1M818.5 371v2M1106 371.5h1M585.5 372v2M904 372.5h1M1104 372.5h2M817 373.5h1M905 373.5h1M1102 373.5h2M586 374.5h1M816.5 374v2M906 374.5h1M1101 374.5h1M587.5 375v2M907.5 375v2M1100 375.5h1M815.5 376v2M1099 376.5h1M588.5 377v2M908 377.5h1M1098 377.5h1M814.5 378v2M909 378.5h1M1096 378.5h2M589 379.5h1M910 379.5h1M1095 379.5h1M590.5 380v2M813 380.5h1M911 380.5h1M1094 380.5h1M812 381.5h1M912 381.5h1M1093 381.5h1M591 382.5h1M811.5 382v2M913.5 382v2M1092 382.5h1M592 383.5h1M1091 383.5h1M593.5 384v2M810 384.5h1M914 384.5h1M1090 384.5h1M809 385.5h1M915 385.5h1M1089.5 385v2M594 386.5h1M808 386.5h1M916 386.5h1M595 387.5h1M807.5 387v2M917 387.5h1M1088 387.5h1M596.5 388v2M918 388.5h1M1087 388.5h1M806 389.5h1M919.5 389v2M1086 389.5h1M597 390.5h1M805 390.5h1M1085 390.5h1M598.5 391v2M804.5 391v2M920 391.5h1M1084 391.5h1M921 392.5h1M1083.5 392v2M599 393.5h1M803 393.5h1M922 393.5h1M600 394.5h1M802 394.5h1M923.5 394v2M1082 394.5h1M601.5 395v2M801.5 395v2M1081 395.5h1M924 396.5h1M1080 396.5h1M602 397.5h1M800 397.5h1M925.5 397v2M1079.5 397v2M603 398.5h1M799 398.5h1M604.5 399v2M798.5 399v2M926.5 399v2M1078 399.5h1M1077 400.5h1M605 401.5h1M797 401.5h1M927.5 401v2M1076 401.5h1M606 402.5h1M796 402.5h1M1075 402.5h1M607 403.5h1M795 403.5h1M928.5 403v2M1074 403.5h1M608 404.5h1M794 404.5h1M1073.5 404v2M609 405.5h1M793.5 405v2M929.5 405v2M610 406.5h1M1072 406.5h1M611 407.5h1M792 407.5h1M930.5 407v2M1071 407.5h1M612 408.5h1M791 408.5h1M1070 408.5h1M613 409.5h1M790 409.5h1M931.5 409v2M1069 409.5h1M614 410.5h2M789 410.5h1M1068 410.5h1M616 411.5h1M788.5 411v2M932.5 411v2M1067 411.5h1M617 412.5h1M1066 412.5h1M618 413.5h2M787.5 413v2M933 413.5h1M1065.5 413v2M620 414.5h1M934.5 414v2M621 415.5h5M786 415.5h1M1064 415.5h1M626 416.5h5M785.5 416v2M935.5 416v2M1063 416.5h1M631 417.5h2M1062 417.5h1M633 418.5h2M784 418.5h1M936.5 418v2M1061 418.5h1M635 419.5h2M652 419.5h6M783.5 419v2M1060 419.5h1M637 420.5h5M648 420.5h4M658 420.5h12M937 420.5h1M1059 420.5h1M642 421.5h6M670 421.5h1M782.5 421v2M938.5 421v2M1058 421.5h1M671 422.5h1M1057 422.5h1M672 423.5h1M781 423.5h1M939.5 423v2M1056 423.5h1M673.5 424v2M780 424.5h1M1055 424.5h1M779.5 425v2M940.5 425v2M1054 425.5h1M674 426.5h1M1053 426.5h1M675 427.5h1M778 427.5h1M941 427.5h1M1052.5 427v2M676 428.5h1M777 428.5h1M942 428.5h1M677 429.5h3M776 429.5h1M943.5 429v2M1051 429.5h1M680 430.5h4M775.5 430v2M1050 430.5h1M684 431.5h4M944 431.5h1M1049.5 431v2M688 432.5h4M774 432.5h1M945 432.5h1M692 433.5h4M773 433.5h1M946 433.5h1M1048 433.5h1M696 434.5h4M772 434.5h1M947.5 434v2M1047 434.5h1M700 435.5h2M771 435.5h1M1046.5 435v2M702 436.5h2M770 436.5h1M948 436.5h1M704 437.5h2M769.5 437v2M949 437.5h2M1045 437.5h1M706 438.5h1M951 438.5h3M1044.5 438v2M707 439.5h2M768 439.5h1M954 439.5h2M709 440.5h3M767 440.5h1M956 440.5h3M1043 440.5h1M712 441.5h4M766 441.5h1M959 441.5h2M1042.5 441v2M716 442.5h3M765 442.5h1M961 442.5h2M719 443.5h2M763 443.5h2M963 443.5h2M1041 443.5h1M721 444.5h2M761 444.5h2M965 444.5h3M1040.5 444v2M723 445.5h2M759 445.5h2M968 445.5h4M725 446.5h1M757 446.5h2M972 446.5h3M1039 446.5h1M726 447.5h2M755 447.5h2M975 447.5h2M1038.5 447v2M728 448.5h1M753 448.5h2M977 448.5h2M729 449.5h1M751 449.5h2M979 449.5h2M1018 449.5h20M730 450.5h2M748 450.5h3M981 450.5h1M1012 450.5h6M732 451.5h1M746 451.5h2M982 451.5h2M1010 451.5h2M733 452.5h5M743 452.5h3M984 452.5h2M1007 452.5h3M738 453.5h5M986 453.5h1M1005 453.5h2M987 454.5h2M1003 454.5h2M989 455.5h3M1001 455.5h2M992 456.5h4M999 456.5h2M996 457.5h3" fill="none" stroke="#ff0000" stroke-width="1"/>
<path d="M442 105.5h4M437 106.5h5M446 106.5h1M435 107.5h2M447 107.5h1M433 108.5h2M448 108.5h2M431 109.5h2M450 109.5h1M429 110.5h2M451 110.5h1M428.5 111v2M452 111.5h1M453 112.5h1M427.5 113v2M454 113.5h1M455 114.5h1M426 115.5h1M456 115.5h2M425.5 116v2M458 116.5h1M459 117.5h1M424 118.5h1M460 118.5h1M423.5 119v2M461 119.5h1M462 120.5h1M422.5 121v2M463 121.5h1M464 122.5h1M421.5 123v2M465.5 123v2M420.5 125v2M466 125.5h1M467 126.5h1M419.5 127v2M468 127.5h1M469.5 128v3M418.5 129v2M417.5 131v2M470.5 131v4M416.5 133v2M415.5 135v2M471.5 135v4M325 137.5h2M414.5 137v2M324 138.5h1M327 138.5h3M322 139.5h2M330 139.5h2M413.5 139v2M472.5 139v4M321 140.5h1M332 140.5h2M320 141.5h1M334 141.5h1M412.5 141v2M318 142.5h2M335 142.5h1M317 143.5h1M336 143.5h1M411.5 143v2M473.5 143v4M316.5 144v2M337.5 144v2M410.5 145v2M315.5 146v2M338 146.5h1M339 147.5h1M409.5 147v2M474.5 147v4M314 148.5h1M340 148.5h1M313.5 149v2M341 149.5h1M408.5 149v2M342 150.5h1M312 151.5h1M343 151.5h1M407.5 151v2M475.5 151v4M311.5 152v2M344 152.5h1M345 153.5h1M406.5 153v2M310.5 154v2M346 154.5h1M347 155.5h1M405.5 155v2M476.5 155v4M309 156.5h1M348 156.5h1M307 157.5h2M349 157.5h1M404 157.5h1M305 158.5h2M350 158.5h1M403 158.5h1M303 159.5h2M351 159.5h1M402 159.5h1M477.5 159v3M300 160.5h3M352 160.5h2M401 160.5h1M298 161.5h2M354 161.5h1M400 161.5h1M295 162.5h3M355 162.5h1M399 162.5h1M478.5 162v2M293 163.5h2M356 163.5h1M398 163.5h1M292.5 164v2M357 164.5h1M397 164.5h1M479.5 164v3M358 165.5h1M396 165.5h1M291.5 166v2M359 166.5h1M395 166.5h1M360 167.5h2M394 167.5h1M480.5 167v3M290.5 168v2M362 168.5h1M393.5 168v2M363 169.5h1M289.5 170v2M364 170.5h1M392 170.5h1M481.5 170v2M157 171.5h5M365 171.5h1M391 171.5h1M155 172.5h2M162 172.5h4M288.5 172v2M366 172.5h1M390 172.5h1M482.5 172v3M154 173.5h1M166.5 173v2M367 173.5h1M389 173.5h1M152 174.5h2M287.5 174v2M368 174.5h1M388 174.5h1M150 175.5h2M167 175.5h1M369.5 175v2M387 175.5h1M483.5 175v3M149 176.5h1M168.5 176v2M286.5 176v2M386 176.5h1M148 177.5h1M370 177.5h1M384 177.5h2M147.5 178v2M169 178.5h1M285.5 178v2M371 178.5h1M383 178.5h1M484.5 178v2M170.5 179v2M372 179.5h1M382 179.5h1M146 180.5h1M284.5 180v2M373 180.5h9M485.5 180v3M145 181.5h1M171 181.5h1M144 182.5h1M172.5 182v2M283.5 182v2M143.5 183v2M486.5 183v3M173 184.5h1M282.5 184v2M142 185.5h1M174 185.5h1M141.5 186v2M175 186.5h1M281.5 186v2M487.5 186v3M176 187.5h1M140.5 188v2M177.5 188v2M280.5 188v2M488.5 189v3M139.5 190v2M178 190.5h1M279.5 190v2M179 191.5h1M138.5 192v2M180 192.5h1M278.5 192v2M489.5 192v4M181.5 193v2M137.5 194v2M277.5 194v3M182.5 195v3M136.5 196v2M490.5 196v3M276.5 197v3M135.5 198v2M183.5 198v2M491.5 199v3M134.5 200v2M184.5 200v3M275.5 200v2M133.5 202v2M274.5 202v3M492.5 202v3M185.5 203v3M132.5 204v2M273.5 205v3M493.5 205v3M131 206.5h1M186.5 206v3M130 207.5h1M129.5 208v2M272.5 208v3M494.5 208v4M187.5 209v2M128 210.5h1M127 211.5h1M188.5 211v3M271.5 211v2M126.5 212v2M495.5 212v3M270.5 213v3M125 214.5h1M189.5 214v3M124 215.5h1M496.5 215v3M122 216.5h2M269.5 216v3M121 217.5h1M190.5 217v3M120 218.5h1M497.5 218v4M118 219.5h2M268.5 219v2M117 220.5h1M191.5 220v3M116.5 221v2M267.5 221v2M498.5 222v3M115.5 223v2M192.5 223v3M266.5 223v3M114 225.5h1M499.5 225v3M113.5 226v2M193.5 226v3M265.5 226v2M112 228.5h1M264.5 228v3M500.5 228v4M111.5 229v2M194.5 229v3M110.5 231v2M263.5 231v2M195.5 232v3M501.5 232v3M109 233.5h1M262.5 233v2M108 234.5h1M107 235.5h1M196.5 235v3M261.5 235v3M502.5 235v3M106 236.5h1M104 237.5h2M103 238.5h1M197.5 238v3M260.5 238v2M503.5 238v3M93 239.5h5M102 239.5h1M92 240.5h1M98 240.5h4M259.5 240v2M91 241.5h1M198.5 241v3M504.5 241v3M5 242.5h1M90 242.5h1M258.5 242v3M6.5 243v2M88 243.5h2M87 244.5h1M199.5 244v3M505.5 244v4M7 245.5h1M86 245.5h1M257.5 245v2M8 246.5h1M85 246.5h1M9.5 247v2M83 247.5h2M200.5 247v3M256.5 247v3M82 248.5h1M506.5 248v3M10 249.5h1M80 249.5h2M11 250.5h1M78 250.5h2M201.5 250v2M255.5 250v2M12.5 251v2M77 251.5h1M507.5 251v3M76 252.5h1M202.5 252v3M254.5 252v2M13 253.5h1M74 253.5h2M14.5 254v2M73 254.5h1M253.5 254v2M508.5 254v3M72 255.5h1M203.5 255v3M15 256.5h1M70 256.5h2M252.5 256v2M16 257.5h1M66 257.5h4M509.5 257v4M17.5 258v2M60 258.5h6M204.5 258v3M251.5 258v2M58 259.5h2M18 260.5h1M55 260.5h3M250.5 260v2M19 261.5h1M53 261.5h2M205.5 261v2M510.5 261v4M20.5 262v2M52 262.5h1M249.5 262v2M51.5 263v2M206.5 263v2M21 264.5h1M248.5 264v2M22 265.5h1M50 265.5h1M207 265.5h1M511.5 265v4M23.5 266v2M49 266.5h1M208 266.5h1M247.5 266v2M48 267.5h1M209.5 267v2M24 268.5h1M47.5 268v2M246.5 268v2M25 269.5h1M210 269.5h1M512.5 269v4M26 270.5h1M46 270.5h1M211 270.5h1M245 270.5h1M27.5 271v2M45 271.5h1M212.5 271v2M244.5 271v2M44 272.5h1M28 273.5h1M43 273.5h1M213 273.5h1M243.5 273v2M513.5 273v4M29 274.5h1M42 274.5h1M214.5 274v2M30 275.5h2M41 275.5h1M242.5 275v2M32 276.5h2M40 276.5h1M215 276.5h1M34 277.5h1M39 277.5h1M216.5 277v2M241 277.5h1M514.5 277v4M35 278.5h2M38 278.5h1M240.5 278v2M37 279.5h1M217 279.5h1M218.5 280v2M239.5 280v2M515.5 281v4M219 282.5h1M238.5 282v2M220.5 283v2M236 284.5h2M221 285.5h3M234 285.5h2M516.5 285v4M224 286.5h4M231 286.5h3M228 287.5h3M517.5 289v3M518.5 292v3M519.5 295v4M520.5 299v3M521.5 302v3M522.5 305v3M834 306.5h4M828 307.5h6M838 307.5h2M523.5 308v4M824 308.5h4M840 308.5h1M821 309.5h3M841 309.5h1M820 310.5h1M842 310.5h2M818 311.5h2M844 311.5h1M524.5 312v3M817 312.5h1M845.5 312v2M816 313.5h1M814 314.5h2M846.5 314v2M525.5 315v3M813 315.5h1M812 316.5h1M847.5 316v2M811.5 317v2M526.5 318v2M848.5 318v2M810 319.5h1M527.5 320v2M809 320.5h1M849.5 320v2M808 321.5h1M528.5 322v3M807.5 322v2M850.5 322v2M806 324.5h1M851.5 324v2M529.5 325v2M805 325.5h1M804.5 326v2M852.5 326v2M530.5 327v3M803.5 328v2M853.5 328v2M531.5 330v2M802 330.5h1M854.5 330v2M801.5 331v2M532.5 332v2M855.5 332v2M800 333.5h1M533.5 334v3M799.5 334v2M856.5 334v2M1093 334.5h5M1092.5 335v2M1098 335.5h4M798.5 336v2M857.5 336v2M1102 336.5h2M534.5 337v3M1091 337.5h1M1104 337.5h2M797.5 338v2M858.5 338v2M1090 338.5h1M1106 338.5h1M1089.5 339v2M1107 339.5h2M535.5 340v4M796.5 340v2M859.5 340v2M1109 340.5h2M1088 341.5h1M1111 341.5h2M795.5 342v2M860.5 342v2M1087 342.5h1M1113 342.5h2M1086.5 343v2M1115 343.5h2M536.5 344v3M794.5 344v2M861.5 344v2M1085 345.5h1M793.5 346v3M862.5 346v2M1084.5 346v2M537.5 347v3M863.5 348v3M1083.5 348v2M792.5 349v2M538.5 350v3M1082.5 350v2M791.5 351v2M864.5 351v3M1081.5 352v2M539.5 353v4M790.5 353v2M865.5 354v2M1080.5 354v2M789.5 355v3M866.5 356v3M1079.5 356v2M540.5 357v3M788.5 358v4M1078.5 358v2M867.5 359v3M541.5 360v3M1077 360.5h1M1076.5 361v2M787.5 362v3M868.5 362v2M542.5 363v3M1075.5 363v2M869.5 364v3M786.5 365v4M1074.5 365v2M543.5 366v3M870.5 367v2M1073.5 367v2M544.5 369v3M785.5 369v3M871.5 369v2M1072.5 369v2M872.5 371v2M1071.5 371v2M545.5 372v3M784.5 372v4M873.5 373v2M1070.5 373v2M546.5 375v3M874.5 375v2M1069.5 375v2M783.5 376v3M875.5 377v2M1068.5 377v2M547.5 378v3M782.5 379v4M876.5 379v2M1067.5 379v2M548.5 381v3M877 381.5h1M1066 381.5h1M878.5 382v2M1065.5 382v2M781.5 383v3M549.5 384v3M879 384.5h1M1064 384.5h1M880.5 385v2M1063.5 385v2M780.5 386v3M550.5 387v2M881 387.5h1M1062.5 387v2M882.5 388v2M551.5 389v3M779.5 389v3M1061 389.5h1M883 390.5h1M1060 390.5h1M884.5 391v2M1059 391.5h1M552.5 392v2M778.5 392v3M1058 392.5h1M885.5 393v2M1057 393.5h1M553.5 394v3M1056 394.5h1M777.5 395v2M886.5 395v2M1055 395.5h1M1054 396.5h1M554.5 397v2M776.5 397v3M887.5 397v2M1053 397.5h1M1052.5 398v2M555.5 399v3M888.5 399v2M775.5 400v3M1051.5 400v2M889.5 401v3M556.5 402v2M1050.5 402v2M774.5 403v3M557.5 404v2M890.5 404v2M1049.5 404v2M558 406.5h2M773.5 406v3M891.5 406v2M1048.5 406v2M560 407.5h2M562 408.5h1M892.5 408v2M1047.5 408v2M563 409.5h2M772.5 409v2M565 410.5h3M893.5 410v2M1046.5 410v2M568 411.5h4M771.5 411v3M572 412.5h3M894.5 412v2M1045.5 412v3M575 413.5h2M577 414.5h2M612 414.5h2M770.5 414v3M895.5 414v2M579 415.5h2M610 415.5h2M614 415.5h2M1044.5 415v2M581 416.5h1M597 416.5h5M607 416.5h3M616 416.5h2M896 416.5h1M582 417.5h2M595 417.5h2M602 417.5h5M618 417.5h1M769.5 417v2M897.5 417v2M1043.5 417v2M584 418.5h2M594 418.5h1M619 418.5h2M586 419.5h1M592 419.5h2M621 419.5h5M768.5 419v3M898 419.5h1M1042.5 419v2M587 420.5h2M590 420.5h2M626 420.5h5M899.5 420v2M589 421.5h1M631 421.5h2M644 421.5h4M1041.5 421v3M633 422.5h2M642 422.5h2M648 422.5h4M658 422.5h5M767.5 422v3M900.5 422v2M635 423.5h2M639 423.5h3M652 423.5h6M663 423.5h3M637 424.5h2M666 424.5h2M901 424.5h1M1040.5 424v2M668 425.5h2M766.5 425v2M902 425.5h2M670.5 426v2M904 426.5h2M1039.5 426v2M765.5 427v3M906 427.5h1M671.5 428v2M907 428.5h2M1038.5 428v2M909 429.5h5M672.5 430v2M764.5 430v2M914 430.5h5M1037.5 430v2M919 431.5h3M673 432.5h1M763.5 432v2M922 432.5h2M1035 432.5h2M674.5 433v2M924 433.5h2M1033 433.5h2M762.5 434v3M926 434.5h1M1031 434.5h2M675.5 435v2M927.5 435v2M1029 435.5h2M1027 436.5h2M676.5 437v2M761.5 437v2M928 437.5h1M1025 437.5h2M929 438.5h1M1023 438.5h2M677 439.5h2M760.5 439v3M930 439.5h1M1020 439.5h3M679 440.5h3M931.5 440v2M1016 440.5h4M682 441.5h2M1013 441.5h3M684 442.5h10M759.5 442v2M932 442.5h1M1011 442.5h2M694 443.5h2M933.5 443v2M1009 443.5h2M696 444.5h2M758.5 444v2M1007 444.5h2M698 445.5h1M934.5 445v2M1005 445.5h2M699 446.5h2M757.5 446v2M1004 446.5h1M701 447.5h1M935.5 447v2M1003.5 447v2M702 448.5h1M756.5 448v2M703.5 449v2M936.5 449v2M1002 449.5h1M755.5 450v2M1001 450.5h1M704 451.5h1M937.5 451v2M1000 451.5h1M705 452.5h1M754 452.5h1M999.5 452v2M706 453.5h1M753.5 453v2M938.5 453v2M707.5 454v2M998 454.5h1M752 455.5h1M939.5 455v2M997 455.5h1M708 456.5h1M751.5 456v2M996 456.5h1M709 457.5h1M940.5 457v2M995.5 457v2M710 458.5h2M750.5 458v2M956 458.5h11M712 459.5h2M941.5 459v2M954 459.5h2M967 459.5h2M994 459.5h1M714 460.5h1M749 460.5h1M942 460.5h4M951 460.5h3M969 460.5h2M993 460.5h1M715 461.5h2M748 461.5h1M946 461.5h5M971 461.5h2M992 461.5h1M717 462.5h2M746 462.5h2M973 462.5h1M991.5 462v2M719 463.5h2M745 463.5h1M974 463.5h2M721 464.5h2M744 464.5h1M976 464.5h2M990 464.5h1M723 465.5h2M730 465.5h8M742 465.5h2M978 465.5h1M988 465.5h2M725 466.5h5M738 466.5h4M979 466.5h2M984 466.5h4M981 467.5h3" fill="none" stroke="#0000cd" stroke-width="1"/>
<rect x="4" y="21" width="1417" height="1" fill="#000"/>
<rect x="4" y="560" width="1417" height="1" fill="#000"/>
<rect x="4" y="21" width="1" height="539" fill="#000"/>
<rect x="4" y="562" width="1417" height="1" fill="#000"/>
<rect x="4" y="665" width="1417" height="1" fill="#000"/>
<rect x="4" y="562" width="1" height="103" fill="#000"/>
<rect x="4" y="667" width="1417" height="1" fill="#000"/>
<rect x="4" y="797" width="1417" height="1" fill="#000"/>
<rect x="4" y="667" width="1" height="130" fill="#000"/>
<rect x="4" y="23" width="1416" height="3" fill="#ff0000"/>
<rect x="4" y="145" width="1416" height="3" fill="#ff0000"/>
<rect x="4" y="266" width="1416" height="3" fill="#ff0000"/>
<rect x="4" y="386" width="1416" height="3" fill="#00ff00"/>
<rect x="4" y="545" width="1416" height="3" fill="#0000ff"/>
<rect x="1420" y="21" width="1" height="540" fill="#000"/>
<rect x="1420" y="562" width="1" height="104" fill="#000"/>
<rect x="1420" y="667" width="1" height="131" fill="#000"/>
<rect x="4" y="264" width="7" height="7" fill="#ff0000"/>
<rect x="7" y="267" width="1" height="1" fill="#fff"/>
<rect x="1414" y="264" width="7" height="7" fill="#ff0000"/>
<rect x="1417" y="267" width="1" height="1" fill="#fff"/>
<rect x="4" y="384" width="7" height="7" fill="#00ff00"/>
<rect x="7" y="387" width="1" height="1" fill="#fff"/>
<rect x="1414" y="384" width="7" height="7" fill="#00ff00"/>
<rect x="1417" y="387" width="1" height="1" fill="#fff"/>
<rect x="4" y="543" width="7" height="7" fill="#0000ff"/>
<rect x="7" y="546" width="1" height="1" fill="#fff"/>
<rect x="1414" y="543" width="7" height="7" fill="#0000ff"/>
<rect x="1417" y="546" width="1" height="1" fill="#fff"/>
<rect x="1420" y="368" width="1" height="1" fill="#c0c0c0"/>
<rect x="1131" y="22" width="9" height="1" fill="#c0c0c0"/>
<rect x="1132" y="23" width="7" height="1" fill="#c0c0c0"/>
<rect x="1133" y="24" width="5" height="1" fill="#c0c0c0"/>
<rect x="1134" y="25" width="3" height="1" fill="#c0c0c0"/>
<rect x="1135" y="26" width="1" height="1" fill="#c0c0c0"/>
<rect x="1421" y="29" width="2" height="1" fill="#000"/>
<text x="1425.8" y="32.9" font-size="10.2" fill="#000" textLength="32.8" lengthAdjust="spacingAndGlyphs" stroke="#000" stroke-width="0.22">0.70965</text>
<rect x="1421" y="62" width="2" height="1" fill="#000"/>
<text x="1425.8" y="65.9" font-size="10.2" fill="#000" textLength="32.8" lengthAdjust="spacingAndGlyphs" stroke="#000" stroke-width="0.22">0.70695</text>
<rect x="1421" y="95" width="2" height="1" fill="#000"/>
<text x="1425.8" y="98.9" font-size="10.2" fill="#000" textLength="32.8" lengthAdjust="spacingAndGlyphs" stroke="#000" stroke-width="0.22">0.70420</text>
<rect x="1421" y="128" width="2" height="1" fill="#000"/>
<text x="1425.8" y="131.9" font-size="10.2" fill="#000" textLength="32.8" lengthAdjust="spacingAndGlyphs" stroke="#000" stroke-width="0.22">0.70150</text>
<rect x="1421" y="161" width="2" height="1" fill="#000"/>
<text x="1425.8" y="164.9" font-size="10.2" fill="#000" textLength="32.8" lengthAdjust="spacingAndGlyphs" stroke="#000" stroke-width="0.22">0.69875</text>
<rect x="1421" y="194" width="2" height="1" fill="#000"/>
<text x="1425.8" y="197.9" font-size="10.2" fill="#000" textLength="32.8" lengthAdjust="spacingAndGlyphs" stroke="#000" stroke-width="0.22">0.69605</text>
<rect x="1421" y="227" width="2" height="1" fill="#000"/>
<text x="1425.8" y="230.9" font-size="10.2" fill="#000" textLength="32.8" lengthAdjust="spacingAndGlyphs" stroke="#000" stroke-width="0.22">0.69330</text>
<rect x="1421" y="260" width="2" height="1" fill="#000"/>
<text x="1425.8" y="263.9" font-size="10.2" fill="#000" textLength="32.8" lengthAdjust="spacingAndGlyphs" stroke="#000" stroke-width="0.22">0.69060</text>
<rect x="1421" y="293" width="2" height="1" fill="#000"/>
<text x="1425.8" y="296.9" font-size="10.2" fill="#000" textLength="32.8" lengthAdjust="spacingAndGlyphs" stroke="#000" stroke-width="0.22">0.68785</text>
<rect x="1421" y="326" width="2" height="1" fill="#000"/>
<text x="1425.8" y="329.9" font-size="10.2" fill="#000" textLength="32.8" lengthAdjust="spacingAndGlyphs" stroke="#000" stroke-width="0.22">0.68515</text>
<rect x="1421" y="359" width="2" height="1" fill="#000"/>
<text x="1425.8" y="362.9" font-size="10.2" fill="#000" textLength="32.8" lengthAdjust="spacingAndGlyphs" stroke="#000" stroke-width="0.22">0.68240</text>
<rect x="1421" y="392" width="2" height="1" fill="#000"/>
<text x="1425.8" y="395.9" font-size="10.2" fill="#000" textLength="32.8" lengthAdjust="spacingAndGlyphs" stroke="#000" stroke-width="0.22">0.67970</text>
<rect x="1421" y="425" width="2" height="1" fill="#000"/>
<text x="1425.8" y="428.9" font-size="10.2" fill="#000" textLength="32.8" lengthAdjust="spacingAndGlyphs" stroke="#000" stroke-width="0.22">0.67700</text>
<rect x="1421" y="458" width="2" height="1" fill="#000"/>
<text x="1425.8" y="461.9" font-size="10.2" fill="#000" textLength="32.8" lengthAdjust="spacingAndGlyphs" stroke="#000" stroke-width="0.22">0.67425</text>
<rect x="1421" y="491" width="2" height="1" fill="#000"/>
<text x="1425.8" y="494.9" font-size="10.2" fill="#000" textLength="32.8" lengthAdjust="spacingAndGlyphs" stroke="#000" stroke-width="0.22">0.67155</text>
<rect x="1421" y="524" width="2" height="1" fill="#000"/>
<text x="1425.8" y="527.9" font-size="10.2" fill="#000" textLength="32.8" lengthAdjust="spacingAndGlyphs" stroke="#000" stroke-width="0.22">0.66880</text>
<rect x="1421" y="557" width="2" height="1" fill="#000"/>
<text x="1425.8" y="560.9" font-size="10.2" fill="#000" textLength="32.8" lengthAdjust="spacingAndGlyphs" stroke="#000" stroke-width="0.22">0.66610</text>
<rect x="1422" y="19" width="40" height="10" fill="#ff0000"/>
<text x="1425.8" y="26.9" font-size="10.2" fill="#fff" textLength="32.8" lengthAdjust="spacingAndGlyphs" stroke="#fff" stroke-width="0.1">0.71005</text>
<rect x="1422" y="140" width="40" height="11" fill="#ff0000"/>
<text x="1425.8" y="148.9" font-size="10.2" fill="#fff" textLength="32.8" lengthAdjust="spacingAndGlyphs" stroke="#fff" stroke-width="0.1">0.70002</text>
<rect x="1422" y="261" width="40" height="11" fill="#ff0000"/>
<text x="1425.8" y="269.9" font-size="10.2" fill="#fff" textLength="32.8" lengthAdjust="spacingAndGlyphs" stroke="#fff" stroke-width="0.1">0.69003</text>
<rect x="1422" y="363" width="40" height="11" fill="#000000"/>
<text x="1425.8" y="371.9" font-size="10.2" fill="#fff" textLength="32.8" lengthAdjust="spacingAndGlyphs" stroke="#fff" stroke-width="0.1">0.68168</text>
<rect x="1422" y="381" width="40" height="11" fill="#00ff00"/>
<text x="1425.8" y="389.9" font-size="10.2" fill="#fff" textLength="32.8" lengthAdjust="spacingAndGlyphs" stroke="#fff" stroke-width="0.1">0.68015</text>
<rect x="1422" y="540" width="40" height="11" fill="#0000ff"/>
<text x="1425.8" y="548.9" font-size="10.2" fill="#fff" textLength="32.8" lengthAdjust="spacingAndGlyphs" stroke="#fff" stroke-width="0.1">0.66705</text>
<polygon points="8,32 15,32 11.5,27.6" fill="#000" shape-rendering="auto"/>
<text x="20.4" y="32.9" font-size="10.2" fill="#000" textLength="68.4" lengthAdjust="spacingAndGlyphs" stroke="#000" stroke-width="0.22">AUDUSD-,Daily</text>
<text x="95.0" y="32.9" font-size="10.2" fill="#000" textLength="33.3" lengthAdjust="spacingAndGlyphs" stroke="#000" stroke-width="0.22">0.68210</text>
<text x="131.0" y="32.9" font-size="10.2" fill="#000" textLength="33.3" lengthAdjust="spacingAndGlyphs" stroke="#000" stroke-width="0.22">0.68237</text>
<text x="167.0" y="32.9" font-size="10.2" fill="#000" textLength="33.3" lengthAdjust="spacingAndGlyphs" stroke="#000" stroke-width="0.22">0.68149</text>
<text x="203.0" y="32.9" font-size="10.2" fill="#000" textLength="33.3" lengthAdjust="spacingAndGlyphs" stroke="#000" stroke-width="0.22">0.68168</text>
<rect x="5" y="593" width="1" height="55" fill="#c0c0c0"/>
<rect x="13" y="593" width="1" height="53" fill="#c0c0c0"/>
<rect x="21" y="593" width="1" height="54" fill="#c0c0c0"/>
<rect x="29" y="593" width="1" height="55" fill="#c0c0c0"/>
<rect x="37" y="593" width="1" height="53" fill="#c0c0c0"/>
<rect x="45" y="593" width="1" height="48" fill="#c0c0c0"/>
<rect x="53" y="593" width="1" height="44" fill="#c0c0c0"/>
<rect x="61" y="593" width="1" height="41" fill="#c0c0c0"/>
<rect x="69" y="593" width="1" height="37" fill="#c0c0c0"/>
<rect x="77" y="593" width="1" height="35" fill="#c0c0c0"/>
<rect x="85" y="593" width="1" height="34" fill="#c0c0c0"/>
<rect x="93" y="593" width="1" height="29" fill="#c0c0c0"/>
<rect x="101" y="593" width="1" height="27" fill="#c0c0c0"/>
<rect x="109" y="593" width="1" height="20" fill="#c0c0c0"/>
<rect x="117" y="593" width="1" height="13" fill="#c0c0c0"/>
<rect x="125" y="593" width="1" height="10" fill="#c0c0c0"/>
<rect x="133" y="593" width="1" height="6" fill="#c0c0c0"/>
<rect x="141" y="593" width="1" height="1" fill="#c0c0c0"/>
<rect x="149" y="591" width="1" height="3" fill="#c0c0c0"/>
<rect x="157" y="592" width="1" height="2" fill="#c0c0c0"/>
<rect x="165" y="592" width="1" height="2" fill="#c0c0c0"/>
<rect x="173" y="593" width="1" height="1" fill="#c0c0c0"/>
<rect x="181" y="593" width="1" height="4" fill="#c0c0c0"/>
<rect x="189" y="593" width="1" height="13" fill="#c0c0c0"/>
<rect x="197" y="593" width="1" height="17" fill="#c0c0c0"/>
<rect x="205" y="593" width="1" height="23" fill="#c0c0c0"/>
<rect x="213" y="593" width="1" height="24" fill="#c0c0c0"/>
<rect x="221" y="593" width="1" height="25" fill="#c0c0c0"/>
<rect x="229" y="593" width="1" height="22" fill="#c0c0c0"/>
<rect x="237" y="593" width="1" height="18" fill="#c0c0c0"/>
<rect x="245" y="593" width="1" height="14" fill="#c0c0c0"/>
<rect x="253" y="593" width="1" height="7" fill="#c0c0c0"/>
<rect x="261" y="593" width="1" height="4" fill="#c0c0c0"/>
<rect x="269" y="593" width="1" height="1" fill="#c0c0c0"/>
<rect x="277" y="587" width="1" height="7" fill="#c0c0c0"/>
<rect x="285" y="581" width="1" height="13" fill="#c0c0c0"/>
<rect x="293" y="576" width="1" height="18" fill="#c0c0c0"/>
<rect x="301" y="578" width="1" height="16" fill="#c0c0c0"/>
<rect x="309" y="577" width="1" height="17" fill="#c0c0c0"/>
<rect x="317" y="573" width="1" height="21" fill="#c0c0c0"/>
<rect x="325" y="571" width="1" height="23" fill="#c0c0c0"/>
<rect x="333" y="573" width="1" height="21" fill="#c0c0c0"/>
<rect x="341" y="575" width="1" height="19" fill="#c0c0c0"/>
<rect x="349" y="578" width="1" height="16" fill="#c0c0c0"/>
<rect x="357" y="584" width="1" height="10" fill="#c0c0c0"/>
<rect x="365" y="587" width="1" height="7" fill="#c0c0c0"/>
<rect x="373" y="587" width="1" height="7" fill="#c0c0c0"/>
<rect x="381" y="583" width="1" height="11" fill="#c0c0c0"/>
<rect x="389" y="579" width="1" height="15" fill="#c0c0c0"/>
<rect x="397" y="577" width="1" height="17" fill="#c0c0c0"/>
<rect x="405" y="576" width="1" height="18" fill="#c0c0c0"/>
<rect x="413" y="576" width="1" height="18" fill="#c0c0c0"/>
<rect x="421" y="571" width="1" height="23" fill="#c0c0c0"/>
<rect x="429" y="570" width="1" height="24" fill="#c0c0c0"/>
<rect x="437" y="569" width="1" height="25" fill="#c0c0c0"/>
<rect x="445" y="570" width="1" height="24" fill="#c0c0c0"/>
<rect x="453" y="574" width="1" height="20" fill="#c0c0c0"/>
<rect x="461" y="579" width="1" height="15" fill="#c0c0c0"/>
<rect x="469" y="586" width="1" height="8" fill="#c0c0c0"/>
<rect x="477" y="593" width="1" height="1" fill="#c0c0c0"/>
<rect x="485" y="593" width="1" height="8" fill="#c0c0c0"/>
<rect x="493" y="593" width="1" height="14" fill="#c0c0c0"/>
<rect x="501" y="593" width="1" height="21" fill="#c0c0c0"/>
<rect x="509" y="593" width="1" height="29" fill="#c0c0c0"/>
<rect x="517" y="593" width="1" height="39" fill="#c0c0c0"/>
<rect x="525" y="593" width="1" height="46" fill="#c0c0c0"/>
<rect x="533" y="593" width="1" height="52" fill="#c0c0c0"/>
<rect x="541" y="593" width="1" height="59" fill="#c0c0c0"/>
<rect x="549" y="593" width="1" height="64" fill="#c0c0c0"/>
<rect x="557" y="593" width="1" height="67" fill="#c0c0c0"/>
<rect x="565" y="593" width="1" height="64" fill="#c0c0c0"/>
<rect x="573" y="593" width="1" height="62" fill="#c0c0c0"/>
<rect x="581" y="593" width="1" height="62" fill="#c0c0c0"/>
<rect x="589" y="593" width="1" height="63" fill="#c0c0c0"/>
<rect x="597" y="593" width="1" height="59" fill="#c0c0c0"/>
<rect x="605" y="593" width="1" height="59" fill="#c0c0c0"/>
<rect x="613" y="593" width="1" height="57" fill="#c0c0c0"/>
<rect x="621" y="593" width="1" height="54" fill="#c0c0c0"/>
<rect x="629" y="593" width="1" height="50" fill="#c0c0c0"/>
<rect x="637" y="593" width="1" height="50" fill="#c0c0c0"/>
<rect x="645" y="593" width="1" height="47" fill="#c0c0c0"/>
<rect x="653" y="593" width="1" height="44" fill="#c0c0c0"/>
<rect x="661" y="593" width="1" height="43" fill="#c0c0c0"/>
<rect x="669" y="593" width="1" height="42" fill="#c0c0c0"/>
<rect x="677" y="593" width="1" height="45" fill="#c0c0c0"/>
<rect x="685" y="593" width="1" height="41" fill="#c0c0c0"/>
<rect x="693" y="593" width="1" height="39" fill="#c0c0c0"/>
<rect x="701" y="593" width="1" height="39" fill="#c0c0c0"/>
<rect x="709" y="593" width="1" height="38" fill="#c0c0c0"/>
<rect x="717" y="593" width="1" height="38" fill="#c0c0c0"/>
<rect x="725" y="593" width="1" height="37" fill="#c0c0c0"/>
<rect x="733" y="593" width="1" height="38" fill="#c0c0c0"/>
<rect x="741" y="593" width="1" height="33" fill="#c0c0c0"/>
<rect x="749" y="593" width="1" height="26" fill="#c0c0c0"/>
<rect x="757" y="593" width="1" height="19" fill="#c0c0c0"/>
<rect x="765" y="593" width="1" height="10" fill="#c0c0c0"/>
<rect x="773" y="593" width="1" height="2" fill="#c0c0c0"/>
<rect x="781" y="589" width="1" height="5" fill="#c0c0c0"/>
<rect x="789" y="584" width="1" height="10" fill="#c0c0c0"/>
<rect x="797" y="579" width="1" height="15" fill="#c0c0c0"/>
<rect x="805" y="576" width="1" height="18" fill="#c0c0c0"/>
<rect x="813" y="572" width="1" height="22" fill="#c0c0c0"/>
<rect x="821" y="570" width="1" height="24" fill="#c0c0c0"/>
<rect x="829" y="570" width="1" height="24" fill="#c0c0c0"/>
<rect x="837" y="569" width="1" height="25" fill="#c0c0c0"/>
<rect x="845" y="573" width="1" height="21" fill="#c0c0c0"/>
<rect x="853" y="579" width="1" height="15" fill="#c0c0c0"/>
<rect x="861" y="587" width="1" height="7" fill="#c0c0c0"/>
<rect x="869" y="593" width="1" height="1" fill="#c0c0c0"/>
<rect x="877" y="593" width="1" height="2" fill="#c0c0c0"/>
<rect x="885" y="593" width="1" height="3" fill="#c0c0c0"/>
<rect x="893" y="593" width="1" height="8" fill="#c0c0c0"/>
<rect x="901" y="593" width="1" height="11" fill="#c0c0c0"/>
<rect x="909" y="593" width="1" height="13" fill="#c0c0c0"/>
<rect x="917" y="593" width="1" height="15" fill="#c0c0c0"/>
<rect x="925" y="593" width="1" height="17" fill="#c0c0c0"/>
<rect x="933" y="593" width="1" height="22" fill="#c0c0c0"/>
<rect x="941" y="593" width="1" height="25" fill="#c0c0c0"/>
<rect x="949" y="593" width="1" height="25" fill="#c0c0c0"/>
<rect x="957" y="593" width="1" height="22" fill="#c0c0c0"/>
<rect x="965" y="593" width="1" height="20" fill="#c0c0c0"/>
<rect x="973" y="593" width="1" height="20" fill="#c0c0c0"/>
<rect x="981" y="593" width="1" height="21" fill="#c0c0c0"/>
<rect x="989" y="593" width="1" height="22" fill="#c0c0c0"/>
<rect x="997" y="593" width="1" height="19" fill="#c0c0c0"/>
<rect x="1005" y="593" width="1" height="13" fill="#c0c0c0"/>
<rect x="1013" y="593" width="1" height="9" fill="#c0c0c0"/>
<rect x="1021" y="593" width="1" height="7" fill="#c0c0c0"/>
<rect x="1029" y="593" width="1" height="7" fill="#c0c0c0"/>
<rect x="1037" y="593" width="1" height="7" fill="#c0c0c0"/>
<rect x="1045" y="593" width="1" height="1" fill="#c0c0c0"/>
<rect x="1053" y="588" width="1" height="6" fill="#c0c0c0"/>
<rect x="1061" y="582" width="1" height="12" fill="#c0c0c0"/>
<rect x="1069" y="576" width="1" height="18" fill="#c0c0c0"/>
<rect x="1077" y="573" width="1" height="21" fill="#c0c0c0"/>
<rect x="1085" y="571" width="1" height="23" fill="#c0c0c0"/>
<rect x="1093" y="573" width="1" height="21" fill="#c0c0c0"/>
<rect x="1101" y="574" width="1" height="20" fill="#c0c0c0"/>
<rect x="1109" y="576" width="1" height="18" fill="#c0c0c0"/>
<rect x="1117" y="577" width="1" height="17" fill="#c0c0c0"/>
<path d="M450 573.5h2M455 573.5h3M461 573.5h3M444 574.5h2M449 574.5h1M467 574.5h3M851 574.5h3M857 574.5h3M863 574.5h1M347 575.5h3M353 575.5h3M359 575.5h3M443 575.5h1M473 575.5h3M845 575.5h3M864 575.5h2M341 576.5h3M365 576.5h3M437 576.5h3M840 576.5h2M869 576.5h3M1116 576.5h1M336 577.5h2M371 577.5h3M377 577.5h1M432 577.5h2M479 577.5h3M839 577.5h1M875 577.5h1M1115 577.5h1M335 578.5h1M378 578.5h2M383 578.5h3M426 578.5h2M431 578.5h1M835 578.5h1M876 578.5h2M1109 578.5h3M329 579.5h3M389 579.5h3M395 579.5h3M401 579.5h1M419 579.5h3M425 579.5h1M485 579.5h2M833 579.5h2M881 579.5h1M325 580.5h1M402 580.5h2M407 580.5h3M413 580.5h3M487 580.5h1M882 580.5h2M1105 580.5h1M323 581.5h2M491 581.5h1M829 581.5h1M1103 581.5h2M492 582.5h2M827 582.5h2M887 582.5h3M1097 583.5h3M318 584.5h2M893 584.5h2M1092 584.5h2M317 585.5h1M497 585.5h1M822 585.5h2M895 585.5h1M1091 585.5h1M498 586.5h2M821 586.5h1M1087 586.5h1M311 587.5h3M899 587.5h2M1085 587.5h2M901 588.5h1M307 589.5h1M503 589.5h1M817 589.5h1M1079 589.5h3M305 590.5h2M504 590.5h1M816 590.5h1M905 590.5h2M505 591.5h1M815 591.5h1M907 591.5h1M1075 591.5h1M300 592.5h2M1073 592.5h2M299 593.5h1M911 593.5h3M295 594.5h1M509 594.5h1M810 594.5h2M1069 594.5h1M293 595.5h2M510 595.5h2M809 595.5h1M917 595.5h1M1067 595.5h2M180 596.5h2M185 596.5h3M191 596.5h3M918 596.5h2M179 597.5h1M197 597.5h3M1063 597.5h1M173 598.5h3M203 598.5h1M288 598.5h2M515 598.5h1M805 598.5h1M1061 598.5h2M204 599.5h2M287 599.5h1M516 599.5h1M804 599.5h1M923 599.5h2M167 600.5h3M209 600.5h3M517 600.5h1M803 600.5h1M925 600.5h1M215 601.5h1M283 601.5h1M929 601.5h1M1056 601.5h2M162 602.5h2M216 602.5h2M282 602.5h1M930 602.5h2M1055 602.5h1M161 603.5h1M221 603.5h2M281 603.5h1M798 603.5h2M157 604.5h1M223 604.5h1M521 604.5h1M797 604.5h1M935 604.5h3M1049 604.5h3M155 605.5h2M276 605.5h2M522 605.5h1M1044 605.5h2M227 606.5h2M275 606.5h1M523 606.5h1M941 606.5h3M1043 606.5h1M151 607.5h1M229 607.5h1M271 607.5h1M793 607.5h1M947 607.5h1M1037 607.5h3M149 608.5h2M233 608.5h3M269 608.5h2M792 608.5h1M948 608.5h2M953 608.5h1M1032 608.5h2M239 609.5h1M263 609.5h3M791 609.5h1M954 609.5h2M1026 609.5h2M1031 609.5h1M240 610.5h2M257 610.5h3M527 610.5h1M959 610.5h3M1020 610.5h2M1025 610.5h1M144 611.5h2M245 611.5h3M251 611.5h3M528 611.5h1M787 611.5h1M1019 611.5h1M143 612.5h1M529 612.5h1M786 612.5h1M965 612.5h3M1013 612.5h3M785 613.5h1M971 613.5h3M977 613.5h1M1008 613.5h2M139 614.5h1M978 614.5h2M983 614.5h3M1002 614.5h2M1007 614.5h1M137 615.5h2M781 615.5h1M989 615.5h3M995 615.5h3M1001 615.5h1M533 616.5h1M779 616.5h2M132 617.5h2M534 617.5h1M131 618.5h1M535 618.5h1M127 619.5h1M774 619.5h2M125 620.5h2M773 620.5h1M539 621.5h1M121 622.5h1M540 622.5h1M769 622.5h1M119 623.5h2M541 623.5h1M767 623.5h2M114 625.5h2M762 625.5h2M113 626.5h1M545 626.5h1M761 626.5h1M109 627.5h1M546 627.5h1M756 627.5h2M107 628.5h2M547 628.5h1M755 628.5h1M751 629.5h1M103 630.5h1M749 630.5h2M101 631.5h2M744 631.5h2M551 632.5h1M738 632.5h2M743 632.5h1M97 633.5h1M552 633.5h2M725 633.5h3M731 633.5h3M737 633.5h1M95 634.5h2M714 634.5h2M719 634.5h3M707 635.5h3M713 635.5h1M89 636.5h3M701 636.5h3M5 637.5h2M84 637.5h2M557 637.5h1M690 637.5h2M695 637.5h3M7 638.5h1M83 638.5h1M558 638.5h2M684 638.5h2M689 638.5h1M11 639.5h1M79 639.5h1M683 639.5h1M12 640.5h2M17 640.5h1M77 640.5h2M679 640.5h1M18 641.5h2M23 641.5h1M71 641.5h3M563 641.5h2M677 641.5h2M24 642.5h2M66 642.5h2M565 642.5h1M672 642.5h2M29 643.5h3M65 643.5h1M666 643.5h2M671 643.5h1M35 644.5h3M41 644.5h1M59 644.5h3M569 644.5h1M660 644.5h2M665 644.5h1M42 645.5h2M47 645.5h3M53 645.5h3M570 645.5h1M659 645.5h1M571 646.5h1M655 646.5h1M653 647.5h2M575 648.5h3M648 648.5h2M642 649.5h2M647 649.5h1M581 650.5h2M636 650.5h2M641 650.5h1M583 651.5h1M635 651.5h1M587 652.5h1M629 652.5h3M588 653.5h2M593 653.5h1M624 653.5h2M594 654.5h2M599 654.5h3M618 654.5h2M623 654.5h1M605 655.5h3M611 655.5h3M617 655.5h1" fill="none" stroke="#ff0000" stroke-width="1"/>
<rect x="237" y="564" width="1" height="4" fill="#ff0000"/>
<text x="9.3" y="574.9" font-size="10.2" fill="#000" textLength="65" lengthAdjust="spacingAndGlyphs" stroke="#000" stroke-width="0.22">MACD(12,26,9)</text>
<text x="78" y="574.9" font-size="10.2" fill="#000" textLength="38.2" lengthAdjust="spacingAndGlyphs" stroke="#000" stroke-width="0.22">0.001467</text>
<text x="119" y="574.9" font-size="10.2" fill="#000" textLength="38.2" lengthAdjust="spacingAndGlyphs" stroke="#000" stroke-width="0.22">0.001505</text>
<rect x="1421" y="564" width="1" height="1" fill="#000"/>
<text x="1423.8" y="572.9" font-size="10.2" fill="#000" textLength="38.2" lengthAdjust="spacingAndGlyphs" stroke="#000" stroke-width="0.22">0.002574</text>
<rect x="1421" y="593" width="1" height="1" fill="#000"/>
<text x="1423.8" y="596.9" font-size="10.2" fill="#000" textLength="18.4" lengthAdjust="spacingAndGlyphs" stroke="#000" stroke-width="0.22">0.00</text>
<rect x="1421" y="664" width="1" height="1" fill="#000"/>
<text x="1423.8" y="661.9" font-size="10.2" fill="#000" textLength="42" lengthAdjust="spacingAndGlyphs" stroke="#000" stroke-width="0.22">-0.006326</text>
<line x1="6" y1="707.5" x2="1419" y2="707.5" stroke="#c0c0c0" stroke-width="1" stroke-dasharray="3 3"/>
<line x1="6" y1="758.5" x2="1419" y2="758.5" stroke="#c0c0c0" stroke-width="1" stroke-dasharray="3 3"/>
<path d="M284 714.5h10M1069 714.5h2M282 715.5h2M293 715.5h1M796 715.5h3M1067 715.5h2M1071 715.5h3M279 716.5h3M294.5 716v2M794 716.5h2M799 716.5h2M812 716.5h10M1053 716.5h3M1065 716.5h2M1074 716.5h2M277 717.5h2M421 717.5h1M780 717.5h6M791 717.5h3M801 717.5h2M810 717.5h2M822 717.5h2M1051 717.5h2M1056 717.5h4M1063 717.5h2M1076 717.5h3M275 718.5h2M295.5 718v2M317 718.5h5M420 718.5h1M422 718.5h2M778 718.5h2M786 718.5h5M803 718.5h2M807 718.5h3M824 718.5h1M1050 718.5h1M1060 718.5h3M1079 718.5h3M273 719.5h2M316 719.5h1M322 719.5h4M419.5 719v2M424 719.5h1M765 719.5h5M775 719.5h3M805 719.5h2M825 719.5h1M1048 719.5h2M1082 719.5h2M271 720.5h2M296.5 720v2M314 720.5h2M326.5 720v2M396 720.5h2M425 720.5h1M764 720.5h1M770 720.5h5M826 720.5h2M1046 720.5h2M1084 720.5h2M141 721.5h2M269 721.5h2M313 721.5h1M394 721.5h2M398 721.5h2M418 721.5h1M426 721.5h2M763 721.5h1M828 721.5h1M834 721.5h4M1045 721.5h1M1086 721.5h1M140 722.5h1M143 722.5h3M267 722.5h2M297.5 722v2M312 722.5h1M327 722.5h1M381 722.5h5M391 722.5h3M400 722.5h2M417 722.5h1M428 722.5h1M762 722.5h1M829 722.5h5M838.5 722v2M1044.5 722v2M1087 722.5h1M117 723.5h1M139 723.5h1M146 723.5h2M266 723.5h1M310 723.5h2M328 723.5h1M380 723.5h1M386 723.5h5M402 723.5h1M416 723.5h1M429 723.5h10M760 723.5h2M1088 723.5h1M115 724.5h2M118 724.5h2M138 724.5h1M148 724.5h2M264 724.5h2M298.5 724v2M309 724.5h1M329.5 724v2M379 724.5h1M403 724.5h2M415.5 724v2M439 724.5h3M759 724.5h1M839 724.5h1M1043.5 724v2M1089.5 724v2M114 725.5h1M120 725.5h1M136 725.5h2M150 725.5h1M253 725.5h5M262 725.5h2M308 725.5h1M378 725.5h1M405 725.5h3M442 725.5h2M758 725.5h1M840.5 725v2M1005 725.5h5M112 726.5h2M121 726.5h1M135 726.5h1M151 726.5h1M251 726.5h2M258 726.5h4M299.5 726v2M306 726.5h2M330 726.5h1M377.5 726v2M408 726.5h4M414 726.5h1M444 726.5h2M756 726.5h2M1004 726.5h1M1010 726.5h4M1042.5 726v2M1090 726.5h1M110 727.5h2M122 727.5h2M134 727.5h1M152 727.5h1M249 727.5h2M305 727.5h1M331 727.5h1M412 727.5h2M446 727.5h1M754 727.5h2M841 727.5h1M1003 727.5h1M1014 727.5h2M1091 727.5h1M1106 727.5h6M109 728.5h1M124 728.5h1M130 728.5h4M153.5 728v2M247 728.5h2M300.5 728v2M304 728.5h1M332.5 728v2M376 728.5h1M447 728.5h1M751 728.5h3M842.5 728v2M1002 728.5h1M1016 728.5h1M1041.5 728v2M1092 728.5h1M1098 728.5h8M1112 728.5h4M108 729.5h1M125 729.5h5M245 729.5h2M302 729.5h2M375 729.5h1M448 729.5h2M749 729.5h2M1001.5 729v2M1017 729.5h1M1093 729.5h5M1116 729.5h1M107.5 730v2M154 730.5h1M243 730.5h2M301 730.5h1M333 730.5h11M374 730.5h1M450 730.5h1M748 730.5h1M843 730.5h1M1018 730.5h2M1040.5 730v2M155 731.5h1M241 731.5h2M344 731.5h4M372 731.5h2M451 731.5h1M747 731.5h1M844.5 731v2M1000 731.5h1M1020 731.5h1M106 732.5h1M156 732.5h1M239 732.5h2M348 732.5h2M370 732.5h2M452 732.5h1M746 732.5h1M999 732.5h1M1021 732.5h1M1039.5 732v2M105 733.5h1M157 733.5h9M234 733.5h5M350 733.5h1M367 733.5h3M453 733.5h2M744 733.5h2M845 733.5h1M998 733.5h1M1022 733.5h2M104 734.5h1M166 734.5h2M229 734.5h5M351 734.5h1M365 734.5h2M455 734.5h2M743 734.5h1M846 734.5h1M997 734.5h1M1024 734.5h2M1038.5 734v2M103.5 735v2M168 735.5h1M228 735.5h1M352 735.5h1M364 735.5h1M457 735.5h2M742 735.5h1M847 735.5h1M957 735.5h5M996.5 735v2M1026 735.5h1M93 736.5h3M169 736.5h1M227 736.5h1M353.5 736v2M363 736.5h1M459 736.5h2M741 736.5h1M848 736.5h2M885 736.5h1M956 736.5h1M962 736.5h4M1027 736.5h2M1034 736.5h4M92 737.5h1M96 737.5h4M102 737.5h1M170 737.5h2M226 737.5h1M362 737.5h1M461 737.5h1M740.5 737v2M850 737.5h1M884 737.5h1M886 737.5h1M955 737.5h1M966 737.5h1M995 737.5h1M1029 737.5h5M91.5 738v2M100 738.5h2M172 738.5h1M225.5 738v2M354 738.5h1M360 738.5h2M462 738.5h2M851 738.5h1M883 738.5h1M887 738.5h1M954 738.5h1M967 738.5h1M994.5 738v2M173 739.5h2M355 739.5h1M359 739.5h1M464 739.5h2M685 739.5h2M739.5 739v2M852 739.5h1M882 739.5h1M888 739.5h1M952 739.5h2M968 739.5h2M45 740.5h5M90 740.5h1M175 740.5h2M224 740.5h1M356 740.5h1M358 740.5h1M466 740.5h1M684.5 740v2M687 740.5h3M853 740.5h1M880 740.5h2M889.5 740v2M951 740.5h1M970 740.5h1M993 740.5h1M44 741.5h1M50 741.5h6M68 741.5h4M89 741.5h1M177 741.5h2M223 741.5h1M357 741.5h1M467 741.5h2M690 741.5h2M738 741.5h1M854 741.5h2M879 741.5h1M950 741.5h1M971 741.5h1M992.5 741v2M43 742.5h1M56 742.5h4M64 742.5h4M72 742.5h4M88 742.5h1M179 742.5h2M222 742.5h1M469 742.5h1M652 742.5h2M683.5 742v2M692 742.5h4M737.5 742v2M856 742.5h1M878 742.5h1M890 742.5h1M949 742.5h1M972 742.5h1M42 743.5h1M60 743.5h4M76 743.5h3M87.5 743v2M181 743.5h1M218 743.5h4M470 743.5h1M650 743.5h2M654 743.5h2M696 743.5h4M857 743.5h1M874 743.5h4M891 743.5h1M908 743.5h14M948.5 743v2M973 743.5h5M991 743.5h1M41.5 744v2M79 744.5h3M182 744.5h1M213 744.5h5M471 744.5h1M647 744.5h3M656 744.5h2M682.5 744v2M700 744.5h6M736 744.5h1M858 744.5h2M868 744.5h6M892 744.5h1M904 744.5h4M922 744.5h4M978 744.5h6M990.5 744v2M82 745.5h2M86 745.5h1M183 745.5h1M212 745.5h1M472 745.5h2M620 745.5h10M645 745.5h2M658 745.5h1M706 745.5h8M735.5 745v2M860 745.5h1M864 745.5h4M893 745.5h11M926 745.5h1M947 745.5h1M984 745.5h4M40 746.5h1M84 746.5h2M184 746.5h1M211 746.5h1M474 746.5h1M597 746.5h1M618 746.5h2M630 746.5h2M643 746.5h2M659 746.5h2M681.5 746v2M714 746.5h8M861 746.5h3M927.5 746v2M946.5 746v2M988 746.5h2M39 747.5h1M185.5 747v2M210 747.5h1M475 747.5h1M596.5 747v2M598 747.5h1M615 747.5h3M632 747.5h2M642 747.5h1M661 747.5h5M722 747.5h6M734.5 747v2M38 748.5h1M197 748.5h1M209.5 748v2M476 748.5h1M599 748.5h1M613 748.5h2M634 748.5h1M640 748.5h2M666 748.5h4M680.5 748v2M728 748.5h4M928 748.5h1M945 748.5h1M13 749.5h2M37 749.5h1M186 749.5h1M195 749.5h2M198 749.5h2M477 749.5h13M595 749.5h1M600 749.5h2M611 749.5h2M635 749.5h2M638 749.5h2M670 749.5h1M732 749.5h2M929 749.5h1M944.5 749v2M11 750.5h2M15 750.5h2M36 750.5h1M187 750.5h1M193 750.5h2M200 750.5h2M208 750.5h1M490 750.5h5M565 750.5h2M594.5 750v2M602 750.5h1M610 750.5h1M637 750.5h1M671 750.5h1M679.5 750v2M930 750.5h1M10 751.5h1M17 751.5h2M34 751.5h2M188 751.5h1M191 751.5h2M202 751.5h1M207 751.5h1M495 751.5h2M565 751.5h1M567 751.5h3M603 751.5h1M608 751.5h2M672 751.5h2M931.5 751v2M943 751.5h1M8 752.5h2M19 752.5h2M33 752.5h1M189 752.5h2M203 752.5h2M206 752.5h1M497 752.5h2M564.5 752v2M570 752.5h2M593 752.5h1M604 752.5h1M606 752.5h2M674 752.5h1M678.5 752v2M942.5 752v2M6 753.5h2M21 753.5h3M32 753.5h1M205 753.5h1M499 753.5h2M572 753.5h4M592.5 753v2M605 753.5h1M675 753.5h1M932 753.5h1M5 754.5h1M24 754.5h4M30 754.5h2M501 754.5h2M563.5 754v2M576 754.5h4M676 754.5h2M933 754.5h9M28 755.5h2M503 755.5h2M580 755.5h3M591 755.5h1M677 755.5h1M505 756.5h2M562.5 756v2M583 756.5h3M590.5 756v2M507 757.5h2M586 757.5h2M509 758.5h1M561.5 758v2M588 758.5h2M510 759.5h2M512 760.5h2M560.5 760v2M514 761.5h1M515 762.5h2M559.5 762v2M517 763.5h13M530 764.5h5M558.5 764v2M535 765.5h3M538 766.5h2M557.5 766v2M540 767.5h17" fill="none" stroke="#1e90ff" stroke-width="1"/>
<text x="9.3" y="679.9" font-size="10.2" fill="#000" textLength="31.6" lengthAdjust="spacingAndGlyphs" stroke="#000" stroke-width="0.22">RSI(14)</text>
<text x="43.5" y="679.9" font-size="10.2" fill="#000" textLength="33.3" lengthAdjust="spacingAndGlyphs" stroke="#000" stroke-width="0.22">53.0287</text>
<rect x="1421" y="669" width="1" height="1" fill="#000"/>
<text x="1424.2" y="677.9" font-size="10.2" fill="#000" textLength="15.4" lengthAdjust="spacingAndGlyphs" stroke="#000" stroke-width="0.22">100</text>
<text x="1422.7" y="710.9" font-size="10.2" fill="#000" textLength="10.4" lengthAdjust="spacingAndGlyphs" stroke="#000" stroke-width="0.22">70</text>
<text x="1422.7" y="761.9" font-size="10.2" fill="#000" textLength="10.4" lengthAdjust="spacingAndGlyphs" stroke="#000" stroke-width="0.22">30</text>
<rect x="1421" y="796" width="1" height="1" fill="#000"/>
<text x="1423.7" y="793.9" font-size="10.2" fill="#000" textLength="5.4" lengthAdjust="spacingAndGlyphs" stroke="#000" stroke-width="0.22">0</text>
<rect x="5" y="798" width="1" height="3" fill="#000"/>
<text x="4.1" y="809.9" font-size="10.2" fill="#000" textLength="55.300000000000004" lengthAdjust="spacingAndGlyphs" stroke="#000" stroke-width="0.22">19 May 2019</text>
<rect x="69" y="798" width="1" height="3" fill="#000"/>
<text x="68.1" y="809.9" font-size="10.2" fill="#000" textLength="55.300000000000004" lengthAdjust="spacingAndGlyphs" stroke="#000" stroke-width="0.22">28 May 2019</text>
<rect x="133" y="798" width="1" height="3" fill="#000"/>
<text x="132.1" y="809.9" font-size="10.2" fill="#000" textLength="45.6" lengthAdjust="spacingAndGlyphs" stroke="#000" stroke-width="0.22">6 Jun 2019</text>
<rect x="197" y="798" width="1" height="3" fill="#000"/>
<text x="196.1" y="809.9" font-size="10.2" fill="#000" textLength="50.2" lengthAdjust="spacingAndGlyphs" stroke="#000" stroke-width="0.22">16 Jun 2019</text>
<rect x="261" y="798" width="1" height="3" fill="#000"/>
<text x="260.1" y="809.9" font-size="10.2" fill="#000" textLength="50.2" lengthAdjust="spacingAndGlyphs" stroke="#000" stroke-width="0.22">25 Jun 2019</text>
<rect x="325" y="798" width="1" height="3" fill="#000"/>
<text x="324.1" y="809.9" font-size="10.2" fill="#000" textLength="42.800000000000004" lengthAdjust="spacingAndGlyphs" stroke="#000" stroke-width="0.22">4 Jul 2019</text>
<rect x="389" y="798" width="1" height="3" fill="#000"/>
<text x="388.1" y="809.9" font-size="10.2" fill="#000" textLength="47.400000000000006" lengthAdjust="spacingAndGlyphs" stroke="#000" stroke-width="0.22">14 Jul 2019</text>
<rect x="453" y="798" width="1" height="3" fill="#000"/>
<text x="452.1" y="809.9" font-size="10.2" fill="#000" textLength="47.400000000000006" lengthAdjust="spacingAndGlyphs" stroke="#000" stroke-width="0.22">23 Jul 2019</text>
<rect x="517" y="798" width="1" height="3" fill="#000"/>
<text x="516.1" y="809.9" font-size="10.2" fill="#000" textLength="48.0" lengthAdjust="spacingAndGlyphs" stroke="#000" stroke-width="0.22">1 Aug 2019</text>
<rect x="581" y="798" width="1" height="3" fill="#000"/>
<text x="580.1" y="809.9" font-size="10.2" fill="#000" textLength="52.6" lengthAdjust="spacingAndGlyphs" stroke="#000" stroke-width="0.22">11 Aug 2019</text>
<rect x="645" y="798" width="1" height="3" fill="#000"/>
<text x="644.1" y="809.9" font-size="10.2" fill="#000" textLength="52.6" lengthAdjust="spacingAndGlyphs" stroke="#000" stroke-width="0.22">20 Aug 2019</text>
<rect x="709" y="798" width="1" height="3" fill="#000"/>
<text x="708.1" y="809.9" font-size="10.2" fill="#000" textLength="52.6" lengthAdjust="spacingAndGlyphs" stroke="#000" stroke-width="0.22">29 Aug 2019</text>
<rect x="773" y="798" width="1" height="3" fill="#000"/>
<text x="772.1" y="809.9" font-size="10.2" fill="#000" textLength="47.800000000000004" lengthAdjust="spacingAndGlyphs" stroke="#000" stroke-width="0.22">8 Sep 2019</text>
<rect x="837" y="798" width="1" height="3" fill="#000"/>
<text x="836.1" y="809.9" font-size="10.2" fill="#000" textLength="52.400000000000006" lengthAdjust="spacingAndGlyphs" stroke="#000" stroke-width="0.22">17 Sep 2019</text>
<rect x="901" y="798" width="1" height="3" fill="#000"/>
<text x="900.1" y="809.9" font-size="10.2" fill="#000" textLength="52.400000000000006" lengthAdjust="spacingAndGlyphs" stroke="#000" stroke-width="0.22">26 Sep 2019</text>
<rect x="965" y="798" width="1" height="3" fill="#000"/>
<text x="964.1" y="809.9" font-size="10.2" fill="#000" textLength="46.5" lengthAdjust="spacingAndGlyphs" stroke="#000" stroke-width="0.22">6 Oct 2019</text>
<rect x="1029" y="798" width="1" height="3" fill="#000"/>
<text x="1028.1" y="809.9" font-size="10.2" fill="#000" textLength="51.1" lengthAdjust="spacingAndGlyphs" stroke="#000" stroke-width="0.22">15 Oct 2019</text>
<rect x="1093" y="798" width="1" height="3" fill="#000"/>
<text x="1092.1" y="809.9" font-size="10.2" fill="#000" textLength="51.1" lengthAdjust="spacingAndGlyphs" stroke="#000" stroke-width="0.22">24 Oct 2019</text>
<rect x="0" y="818" width="1462" height="1" fill="#e3e3e3"/>
<rect x="0" y="821" width="1462" height="18" fill="#f0f0f0"/>
<rect x="0" y="820" width="1462" height="1" fill="#000"/>
<rect x="114" y="820" width="108" height="19" fill="#fff"/>
<rect x="114" y="820" width="1" height="19" fill="#000"/>
<rect x="221" y="820" width="1" height="19" fill="#000"/>
<rect x="114" y="838" width="108" height="1" fill="#000"/>
<rect x="0" y="820" width="2" height="19" fill="#a0a0a0"/>
<text x="16.7" y="835" font-size="13" fill="#7c7c7c" textLength="86.0" lengthAdjust="spacingAndGlyphs" stroke="#7c7c7c" stroke-width="0.1">EURUSD-,Daily</text>
<text x="123.7" y="835" font-size="13" fill="#000" textLength="87.8" lengthAdjust="spacingAndGlyphs" stroke="#000" stroke-width="0.1">AUDUSD-,Daily</text>
<text x="233.0" y="835" font-size="13" fill="#7c7c7c" textLength="86.0" lengthAdjust="spacingAndGlyphs" stroke="#7c7c7c" stroke-width="0.1">USDCHF-,Daily</text>
<text x="340.7" y="835" font-size="13" fill="#7c7c7c" textLength="86.9" lengthAdjust="spacingAndGlyphs" stroke="#7c7c7c" stroke-width="0.1">USDCAD-,Daily</text>
<text x="449.9" y="835" font-size="13" fill="#7c7c7c" textLength="88.7" lengthAdjust="spacingAndGlyphs" stroke="#7c7c7c" stroke-width="0.1">USDCNH-,Daily</text>
<text x="560.7" y="835" font-size="13" fill="#7c7c7c" textLength="97.5" lengthAdjust="spacingAndGlyphs" stroke="#7c7c7c" stroke-width="0.1">EURCHF-,Weekly</text>
<text x="681.5" y="835" font-size="13" fill="#7c7c7c" textLength="101.1" lengthAdjust="spacingAndGlyphs" stroke="#7c7c7c" stroke-width="0.1">XAUUSD-,Weekly</text>
<text x="804.5" y="835" font-size="13" fill="#7c7c7c" textLength="73.8" lengthAdjust="spacingAndGlyphs" stroke="#7c7c7c" stroke-width="0.1">GBPUSD-,H1</text>
<text x="900.9000000000001" y="835" font-size="13" fill="#7c7c7c" textLength="57.5" lengthAdjust="spacingAndGlyphs" stroke="#7c7c7c" stroke-width="0.1">UKOil-,H1</text>
<text x="979.7" y="835" font-size="13" fill="#7c7c7c" textLength="83.9" lengthAdjust="spacingAndGlyphs" stroke="#7c7c7c" stroke-width="0.1">USDX-,Weekly</text>
<text x="1083.5" y="835" font-size="13" fill="#7c7c7c" textLength="71.9" lengthAdjust="spacingAndGlyphs" stroke="#7c7c7c" stroke-width="0.1">EURCHF-,H1</text>
<text x="1177.5" y="835" font-size="13" fill="#7c7c7c" textLength="56.8" lengthAdjust="spacingAndGlyphs" stroke="#7c7c7c" stroke-width="0.1">USOil-,H1</text>
<rect x="330" y="823" width="1" height="14" fill="#6a6a6a"/>
<rect x="438" y="823" width="1" height="14" fill="#6a6a6a"/>
<rect x="550" y="823" width="1" height="14" fill="#6a6a6a"/>
<rect x="670" y="823" width="1" height="14" fill="#6a6a6a"/>
<rect x="794" y="823" width="1" height="14" fill="#6a6a6a"/>
<rect x="890" y="823" width="1" height="14" fill="#6a6a6a"/>
<rect x="969" y="823" width="1" height="14" fill="#6a6a6a"/>
<rect x="1074" y="823" width="1" height="14" fill="#6a6a6a"/>
<rect x="1166" y="823" width="1" height="14" fill="#6a6a6a"/>
<rect x="1246" y="823" width="1" height="14" fill="#6a6a6a"/>
<polygon points="1439.5,826 1439.5,833 1435.5,829.5" fill="#a0a0a0" shape-rendering="auto"/>
<polygon points="1455,826 1455,833 1459,829.5" fill="#a0a0a0" shape-rendering="auto"/>
<rect x="8" y="41" width="52" height="24" fill="url(#gr)"/>
<rect x="175" y="41" width="52" height="24" fill="url(#gr)"/>
<rect x="8" y="65" width="109" height="40" fill="url(#gr)"/>
<rect x="119" y="65" width="108" height="40" fill="url(#gr)"/>
<rect x="8" y="41" width="52" height="1" fill="#c01010"/>
<rect x="8" y="41" width="1" height="24" fill="#c01010"/>
<rect x="59" y="41" width="1" height="24" fill="#c01010"/>
<rect x="175" y="41" width="52" height="1" fill="#c01010"/>
<rect x="175" y="41" width="1" height="24" fill="#c01010"/>
<rect x="226" y="41" width="1" height="24" fill="#c01010"/>
<rect x="12" y="64" width="44" height="1" fill="#7a0000"/>
<rect x="12" y="65" width="44" height="1" fill="#f07070"/>
<rect x="179" y="64" width="44" height="1" fill="#7a0000"/>
<rect x="179" y="65" width="44" height="1" fill="#f07070"/>
<rect x="62" y="41" width="111" height="22" fill="#a8acb8"/>
<rect x="63" y="42" width="109" height="20" fill="#fff"/>
<rect x="63" y="42" width="20" height="20" fill="url(#gb)"/>
<rect x="152" y="42" width="20" height="20" fill="url(#gb)"/>
<rect x="83" y="42" width="1" height="20" fill="#a8acb8"/>
<rect x="151" y="42" width="1" height="20" fill="#a8acb8"/>
<polygon points="70,50 76,50 73,53.5" fill="#4a60c0" shape-rendering="auto"/>
<polygon points="159,53.5 165,53.5 162,50" fill="#4a60c0" shape-rendering="auto"/>
<text x="124.2" y="55.8" font-size="11.6" fill="#000" textLength="24" lengthAdjust="spacingAndGlyphs" stroke="#000" stroke-width="0.2">1.00</text>
<text x="20.0" y="56.6" font-size="11.6" fill="#fff" textLength="26.4" lengthAdjust="spacingAndGlyphs">SELL</text>
<text x="188.2" y="56.6" font-size="11.6" fill="#fff" textLength="23.2" lengthAdjust="spacingAndGlyphs">BUY</text>
<text x="27.4" y="95.6" font-size="13" fill="#fff" textLength="24.6" lengthAdjust="spacingAndGlyphs" font-weight="bold">0.68</text>
<text x="137.4" y="95.6" font-size="13" fill="#fff" textLength="24.6" lengthAdjust="spacingAndGlyphs" font-weight="bold">0.68</text>
<text x="54.6" y="95.6" font-size="34" fill="#fff" textLength="36" lengthAdjust="spacingAndGlyphs">16</text>
<text x="166.4" y="95.6" font-size="34" fill="#fff" textLength="36" lengthAdjust="spacingAndGlyphs">19</text>
<text x="94.8" y="79.6" font-size="12" fill="#fff" textLength="7.4" lengthAdjust="spacingAndGlyphs" font-weight="bold">8</text>
<text x="205.6" y="79.6" font-size="12" fill="#fff" textLength="7.4" lengthAdjust="spacingAndGlyphs" font-weight="bold">0</text>
</svg>
</body></html>
